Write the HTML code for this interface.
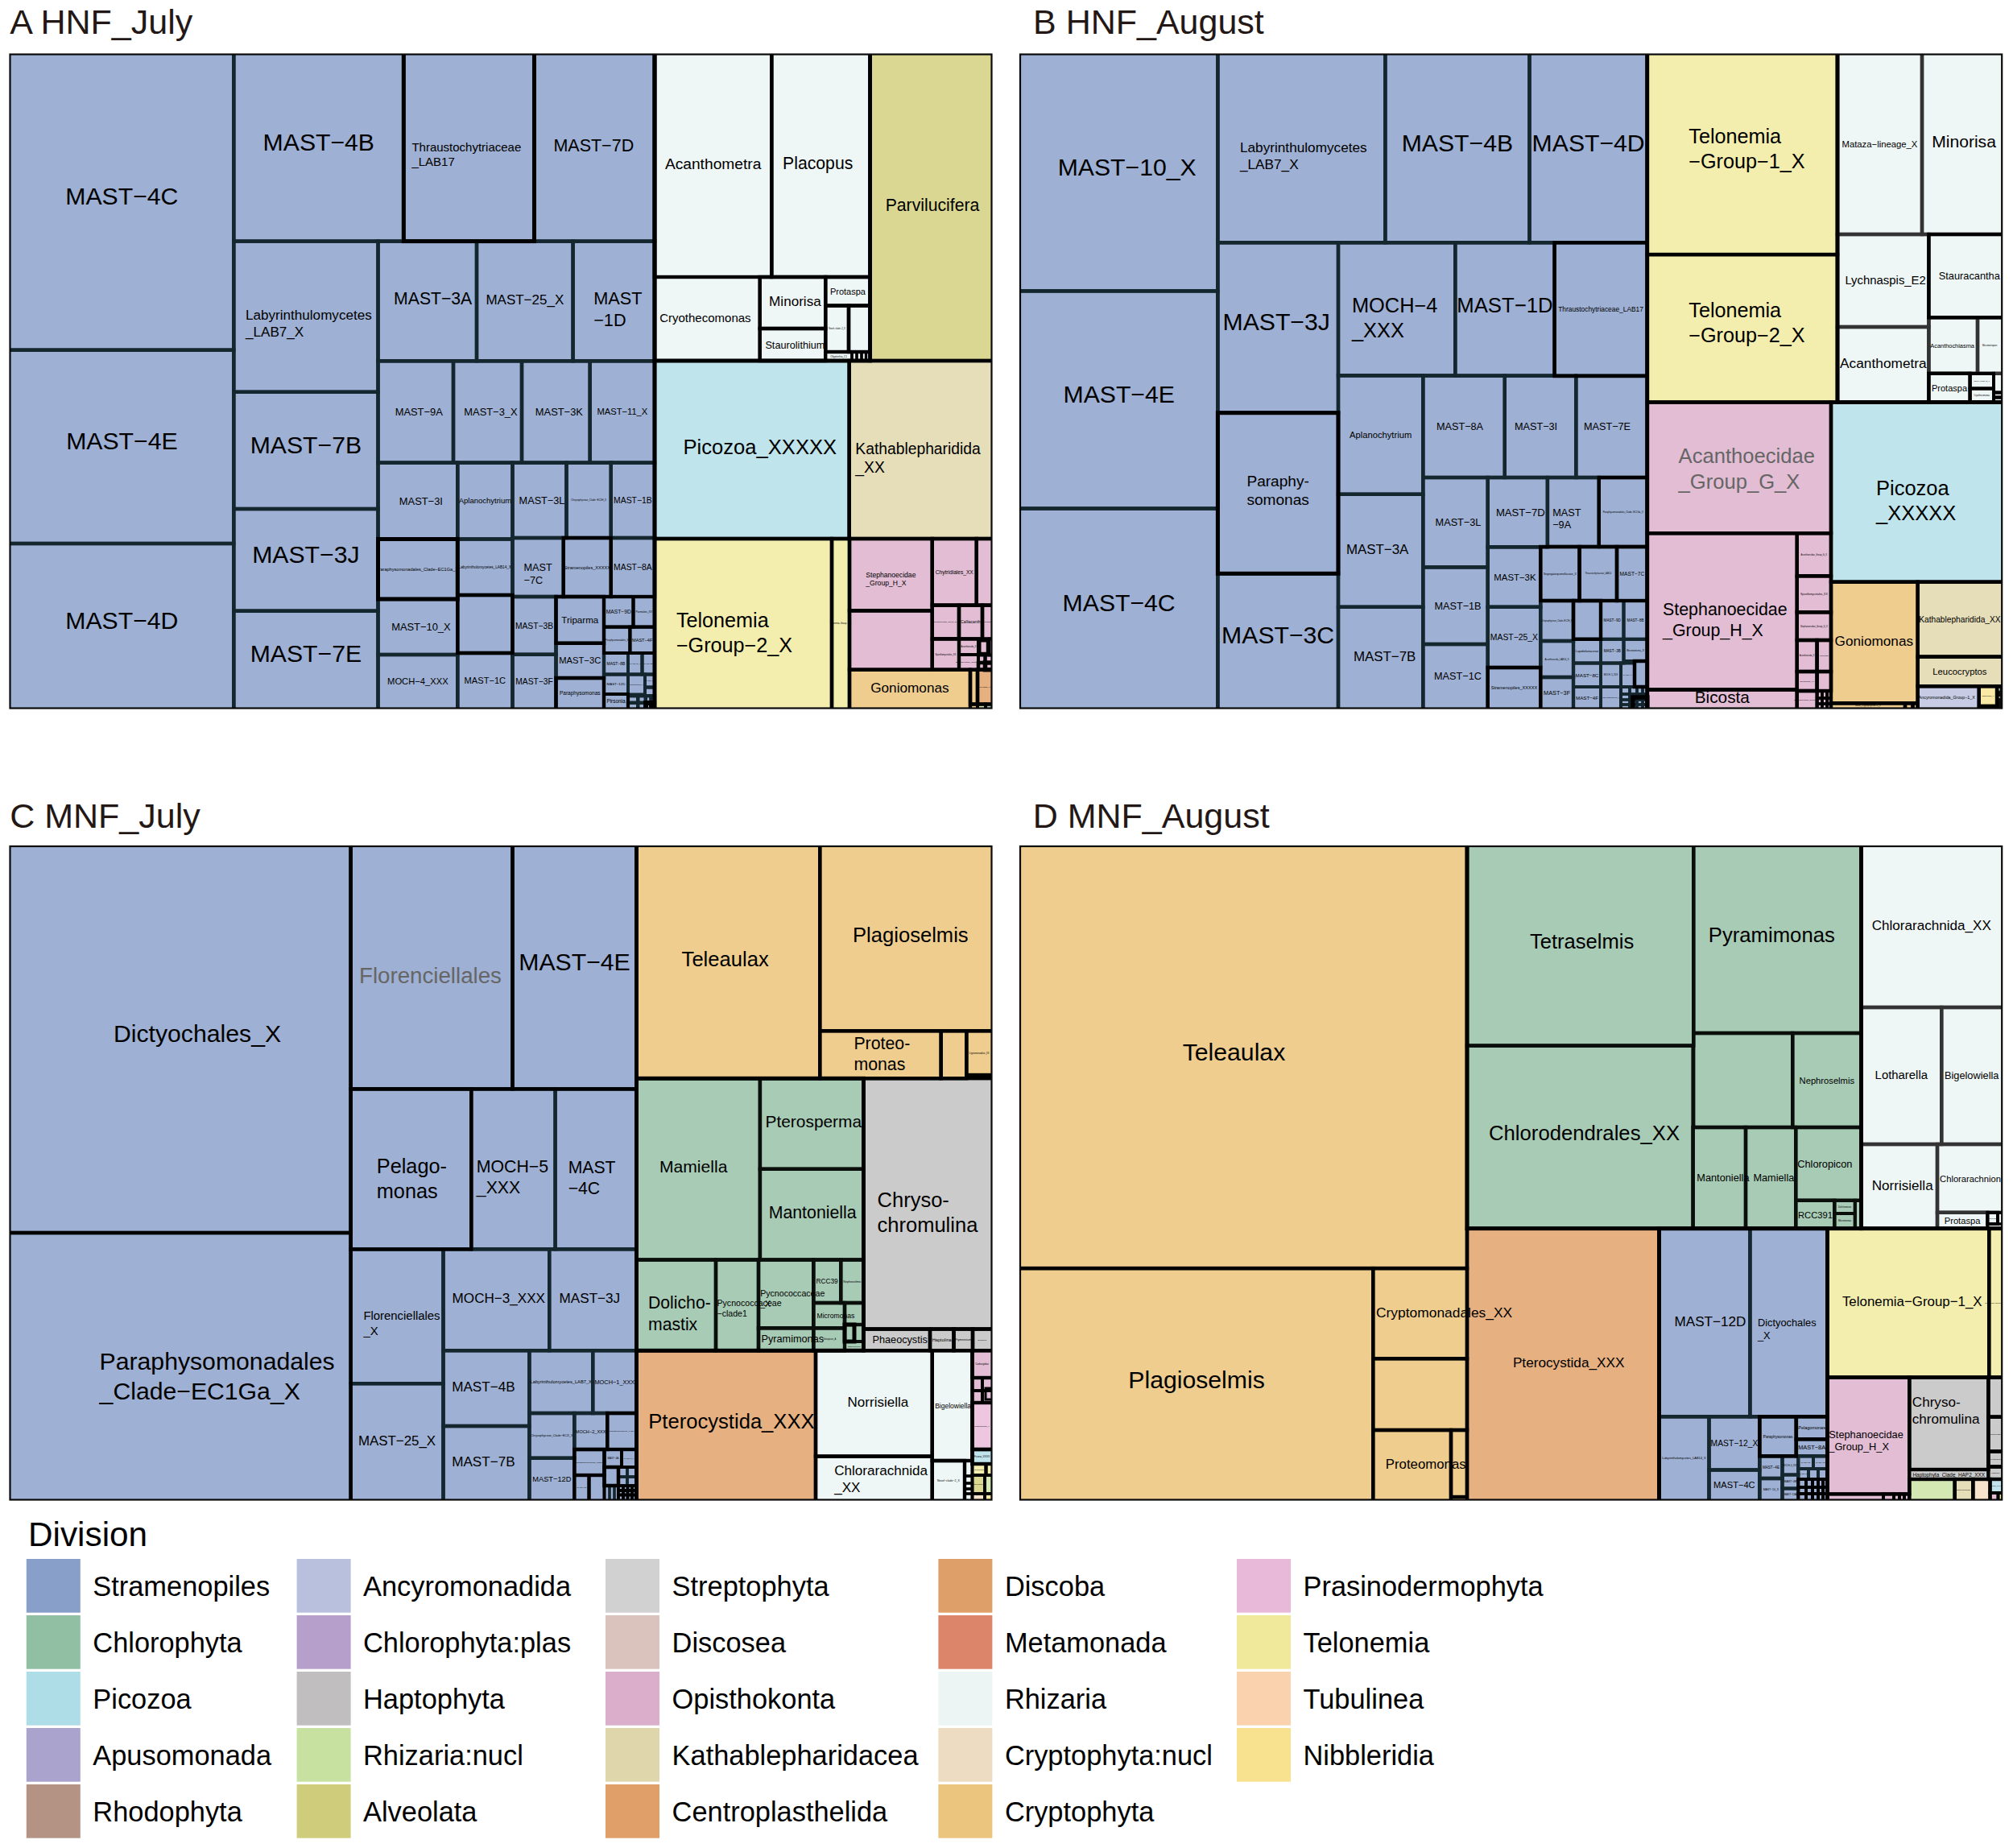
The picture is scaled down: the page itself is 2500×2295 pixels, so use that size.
<!DOCTYPE html>
<html lang="en"><head><meta charset="utf-8"><title>Division treemaps</title>
<style>html,body{margin:0;padding:0;background:#fff}svg{display:block}text{font-family:"Liberation Sans",sans-serif;fill:#000}</style></head><body>
<svg width="2500" height="2295" viewBox="0 0 2500 2295">
<rect width="2500" height="2295" fill="#fff"/>
<text x="12.2" y="42.3" font-size="43" style="fill:#231815">A HNF_July</text>
<text x="1283" y="42.3" font-size="43" style="fill:#231815">B HNF_August</text>
<text x="12.2" y="1028" font-size="43" style="fill:#231815">C MNF_July</text>
<text x="1282.7" y="1028" font-size="43" style="fill:#231815">D MNF_August</text>
<clipPath id="cpA"><rect x="12.5" y="67.5" width="1219.0" height="812.0"/></clipPath>
<g clip-path="url(#cpA)">
<rect x="12.5" y="67.5" width="1219.0" height="812.0" fill="#111"/>
<rect x="8.5" y="63.5" width="281.8" height="371.2" fill="#9eb0d3"/>
<rect x="8.5" y="434.7" width="281.8" height="240.3" fill="#9eb0d3"/>
<rect x="8.5" y="675.0" width="281.8" height="208.5" fill="#9eb0d3"/>
<rect x="290.3" y="63.5" width="211.0" height="236.1" fill="#9eb0d3"/>
<rect x="663.5" y="63.5" width="149.5" height="236.1" fill="#9eb0d3"/>
<rect x="290.3" y="299.6" width="179.2" height="187.2" fill="#9eb0d3"/>
<rect x="290.3" y="486.8" width="179.2" height="145.2" fill="#9eb0d3"/>
<rect x="290.3" y="632.0" width="179.2" height="126.7" fill="#9eb0d3"/>
<rect x="290.3" y="758.7" width="179.2" height="124.8" fill="#9eb0d3"/>
<rect x="469.5" y="299.6" width="122.5" height="148.7" fill="#9eb0d3"/>
<rect x="592.0" y="299.6" width="119.6" height="148.7" fill="#9eb0d3"/>
<rect x="711.6" y="299.6" width="101.4" height="148.7" fill="#9eb0d3"/>
<rect x="469.5" y="448.3" width="93.5" height="126.3" fill="#9eb0d3"/>
<rect x="563.0" y="448.3" width="85.0" height="126.3" fill="#9eb0d3"/>
<rect x="648.0" y="448.3" width="84.7" height="126.3" fill="#9eb0d3"/>
<rect x="732.7" y="448.3" width="80.3" height="126.3" fill="#9eb0d3"/>
<rect x="469.5" y="574.6" width="98.8" height="94.9" fill="#9eb0d3"/>
<rect x="568.3" y="574.6" width="68.2" height="94.9" fill="#9eb0d3"/>
<rect x="636.5" y="574.6" width="67.0" height="93.4" fill="#9eb0d3"/>
<rect x="703.5" y="574.6" width="55.3" height="93.4" fill="#9eb0d3"/>
<rect x="758.8" y="574.6" width="54.2" height="93.4" fill="#9eb0d3"/>
<rect x="568.3" y="669.5" width="68.2" height="69.5" fill="#9eb0d3"/>
<rect x="636.5" y="668.0" width="63.3" height="73.0" fill="#9eb0d3"/>
<rect x="758.8" y="668.0" width="54.2" height="73.0" fill="#9eb0d3"/>
<rect x="469.5" y="744.0" width="98.8" height="69.0" fill="#9eb0d3"/>
<rect x="469.5" y="813.0" width="98.8" height="70.5" fill="#9eb0d3"/>
<rect x="568.3" y="811.0" width="68.2" height="72.5" fill="#9eb0d3"/>
<rect x="636.5" y="741.0" width="54.0" height="71.8" fill="#9eb0d3"/>
<rect x="636.5" y="812.8" width="54.0" height="70.7" fill="#9eb0d3"/>
<rect x="690.5" y="741.0" width="59.5" height="57.8" fill="#9eb0d3"/>
<rect x="690.5" y="798.8" width="59.5" height="43.2" fill="#9eb0d3"/>
<rect x="690.5" y="842.0" width="59.5" height="41.5" fill="#9eb0d3"/>
<rect x="750.0" y="741.0" width="36.5" height="37.6" fill="#9eb0d3"/>
<rect x="786.5" y="741.0" width="26.5" height="37.6" fill="#9eb0d3"/>
<rect x="750.0" y="778.6" width="32.4" height="32.4" fill="#9eb0d3"/>
<rect x="782.4" y="778.6" width="30.6" height="32.4" fill="#9eb0d3"/>
<rect x="750.0" y="811.0" width="30.0" height="26.5" fill="#9eb0d3"/>
<rect x="780.0" y="811.0" width="17.5" height="26.5" fill="#9eb0d3"/>
<rect x="797.5" y="811.0" width="15.5" height="26.5" fill="#9eb0d3"/>
<rect x="750.0" y="837.5" width="30.0" height="24.5" fill="#9eb0d3"/>
<rect x="780.0" y="837.5" width="21.0" height="25.0" fill="#9eb0d3"/>
<rect x="801.0" y="837.5" width="12.0" height="16.0" fill="#9eb0d3"/>
<rect x="801.0" y="853.5" width="12.0" height="10.5" fill="#9eb0d3"/>
<rect x="780.0" y="864.3" width="12.2" height="8.5" fill="#9eb0d3"/>
<rect x="780.0" y="872.8" width="12.2" height="10.7" fill="#9eb0d3"/>
<rect x="792.2" y="864.3" width="9.6" height="8.5" fill="#9eb0d3"/>
<rect x="792.2" y="872.8" width="9.6" height="10.7" fill="#9eb0d3"/>
<rect x="801.8" y="864.3" width="6.7" height="8.5" fill="#9eb0d3"/>
<rect x="801.8" y="872.8" width="6.7" height="10.7" fill="#9eb0d3"/>
<rect x="808.5" y="864.3" width="4.5" height="8.5" fill="#9eb0d3"/>
<rect x="808.5" y="872.8" width="4.5" height="10.7" fill="#9eb0d3"/>
<rect x="802.0" y="873.0" width="7.0" height="10.5" fill="#9eb0d3"/>
<rect x="750.0" y="862.0" width="30.0" height="21.5" fill="#9eb0d3"/>
<rect x="568.3" y="739.0" width="68.2" height="72.0" fill="#9eb0d3"/>
<rect x="699.8" y="668.0" width="59.0" height="73.0" fill="#9eb0d3"/>
<rect x="469.5" y="669.5" width="98.8" height="74.5" fill="#9eb0d3"/>
<rect x="501.3" y="63.5" width="162.2" height="236.1" fill="#9eb0d3"/>
<rect x="813.0" y="63.5" width="145.3" height="280.5" fill="#eff6f6"/>
<rect x="958.3" y="63.5" width="122.3" height="280.5" fill="#eff6f6"/>
<rect x="813.0" y="344.0" width="130.7" height="104.0" fill="#eff6f6"/>
<rect x="943.7" y="344.0" width="81.5" height="64.0" fill="#eff6f6"/>
<rect x="943.7" y="408.0" width="81.5" height="40.0" fill="#eff6f6"/>
<rect x="1025.2" y="344.0" width="55.4" height="35.6" fill="#eff6f6"/>
<rect x="1025.2" y="379.6" width="28.8" height="57.4" fill="#eff6f6"/>
<rect x="1054.0" y="379.6" width="26.6" height="57.4" fill="#eff6f6"/>
<rect x="1025.2" y="437.0" width="32.8" height="11.0" fill="#eff6f6"/>
<rect x="1058.0" y="437.0" width="6.0" height="11.0" fill="#eff6f6"/>
<rect x="1064.0" y="437.0" width="6.0" height="11.0" fill="#eff6f6"/>
<rect x="1070.0" y="437.0" width="5.5" height="11.0" fill="#eff6f6"/>
<rect x="1075.5" y="437.0" width="5.1" height="11.0" fill="#eff6f6"/>
<rect x="1080.6" y="63.5" width="154.9" height="384.5" fill="#d9d791"/>
<rect x="813.0" y="448.0" width="241.7" height="221.0" fill="#bfe4ec"/>
<rect x="1054.7" y="448.0" width="180.8" height="221.0" fill="#e6deb9"/>
<rect x="813.0" y="669.0" width="220.0" height="214.5" fill="#f3eeae"/>
<rect x="1033.0" y="669.0" width="22.0" height="214.5" fill="#f3eeae"/>
<rect x="1055.0" y="669.0" width="102.8" height="89.4" fill="#e2bdd4"/>
<rect x="1055.0" y="758.4" width="102.8" height="73.3" fill="#e2bdd4"/>
<rect x="1157.8" y="669.0" width="55.0" height="82.6" fill="#e2bdd4"/>
<rect x="1212.8" y="669.0" width="22.7" height="82.6" fill="#e2bdd4"/>
<rect x="1157.8" y="751.6" width="33.2" height="41.8" fill="#e2bdd4"/>
<rect x="1191.0" y="751.6" width="29.0" height="41.8" fill="#e2bdd4"/>
<rect x="1220.0" y="751.6" width="15.5" height="41.8" fill="#e2bdd4"/>
<rect x="1157.8" y="793.4" width="33.2" height="38.3" fill="#e2bdd4"/>
<rect x="1191.0" y="793.4" width="24.0" height="19.6" fill="#e2bdd4"/>
<rect x="1191.0" y="813.0" width="24.0" height="18.7" fill="#e2bdd4"/>
<rect x="1228.5" y="793.4" width="7.0" height="20.1" fill="#e2bdd4"/>
<rect x="1215.0" y="813.5" width="8.5" height="9.5" fill="#e2bdd4"/>
<rect x="1223.5" y="813.5" width="12.0" height="9.5" fill="#e2bdd4"/>
<rect x="1215.0" y="823.0" width="8.5" height="8.7" fill="#e2bdd4"/>
<rect x="1223.5" y="823.0" width="12.0" height="8.7" fill="#e2bdd4"/>
<rect x="1216.5" y="795.5" width="10.3" height="16.3" fill="#e2bdd4"/>
<rect x="1055.0" y="831.7" width="150.0" height="51.8" fill="#efcd8f"/>
<rect x="1205.0" y="831.7" width="9.0" height="42.8" fill="#efcd8f"/>
<rect x="1214.0" y="831.7" width="21.5" height="42.8" fill="#e7b081"/>
<rect x="1205.0" y="874.5" width="9.0" height="9.0" fill="#efcd8f"/>
<rect x="1214.0" y="874.5" width="10.0" height="9.0" fill="#d4e8b3"/>
<rect x="1224.0" y="874.5" width="11.5" height="9.0" fill="#a8cbb5"/>
<g fill="none">
<rect x="8.5" y="63.5" width="281.8" height="371.2" stroke="#14272f" stroke-width="4.4"/>
<rect x="8.5" y="434.7" width="281.8" height="240.3" stroke="#14272f" stroke-width="4.4"/>
<rect x="8.5" y="675.0" width="281.8" height="208.5" stroke="#14272f" stroke-width="4.4"/>
<rect x="290.3" y="63.5" width="211.0" height="236.1" stroke="#14272f" stroke-width="4.4"/>
<rect x="663.5" y="63.5" width="149.5" height="236.1" stroke="#14272f" stroke-width="4.4"/>
<rect x="290.3" y="299.6" width="179.2" height="187.2" stroke="#14272f" stroke-width="4.4"/>
<rect x="290.3" y="486.8" width="179.2" height="145.2" stroke="#14272f" stroke-width="4.4"/>
<rect x="290.3" y="632.0" width="179.2" height="126.7" stroke="#14272f" stroke-width="4.4"/>
<rect x="290.3" y="758.7" width="179.2" height="124.8" stroke="#14272f" stroke-width="4.4"/>
<rect x="469.5" y="299.6" width="122.5" height="148.7" stroke="#14272f" stroke-width="4.4"/>
<rect x="592.0" y="299.6" width="119.6" height="148.7" stroke="#14272f" stroke-width="4.4"/>
<rect x="711.6" y="299.6" width="101.4" height="148.7" stroke="#14272f" stroke-width="4.4"/>
<rect x="469.5" y="448.3" width="93.5" height="126.3" stroke="#14272f" stroke-width="4.4"/>
<rect x="563.0" y="448.3" width="85.0" height="126.3" stroke="#14272f" stroke-width="4.4"/>
<rect x="648.0" y="448.3" width="84.7" height="126.3" stroke="#14272f" stroke-width="4.4"/>
<rect x="732.7" y="448.3" width="80.3" height="126.3" stroke="#14272f" stroke-width="4.4"/>
<rect x="469.5" y="574.6" width="98.8" height="94.9" stroke="#14272f" stroke-width="4.4"/>
<rect x="568.3" y="574.6" width="68.2" height="94.9" stroke="#14272f" stroke-width="4.4"/>
<rect x="636.5" y="574.6" width="67.0" height="93.4" stroke="#14272f" stroke-width="4.4"/>
<rect x="703.5" y="574.6" width="55.3" height="93.4" stroke="#14272f" stroke-width="4.4"/>
<rect x="758.8" y="574.6" width="54.2" height="93.4" stroke="#14272f" stroke-width="4.4"/>
<rect x="568.3" y="669.5" width="68.2" height="69.5" stroke="#14272f" stroke-width="4.4"/>
<rect x="636.5" y="668.0" width="63.3" height="73.0" stroke="#14272f" stroke-width="4.4"/>
<rect x="758.8" y="668.0" width="54.2" height="73.0" stroke="#14272f" stroke-width="4.4"/>
<rect x="469.5" y="744.0" width="98.8" height="69.0" stroke="#14272f" stroke-width="4.4"/>
<rect x="469.5" y="813.0" width="98.8" height="70.5" stroke="#14272f" stroke-width="4.4"/>
<rect x="568.3" y="811.0" width="68.2" height="72.5" stroke="#14272f" stroke-width="4.4"/>
<rect x="636.5" y="741.0" width="54.0" height="71.8" stroke="#14272f" stroke-width="4.4"/>
<rect x="636.5" y="812.8" width="54.0" height="70.7" stroke="#14272f" stroke-width="4.4"/>
<rect x="690.5" y="798.8" width="59.5" height="43.2" stroke="#14272f" stroke-width="4.4"/>
<rect x="750.0" y="811.0" width="30.0" height="26.5" stroke="#14272f" stroke-width="4"/>
<rect x="780.0" y="811.0" width="17.5" height="26.5" stroke="#14272f" stroke-width="4"/>
<rect x="797.5" y="811.0" width="15.5" height="26.5" stroke="#14272f" stroke-width="4"/>
<rect x="750.0" y="837.5" width="30.0" height="24.5" stroke="#14272f" stroke-width="4"/>
<rect x="780.0" y="837.5" width="21.0" height="25.0" stroke="#14272f" stroke-width="4"/>
<rect x="801.0" y="837.5" width="12.0" height="16.0" stroke="#14272f" stroke-width="4"/>
<rect x="801.0" y="853.5" width="12.0" height="10.5" stroke="#14272f" stroke-width="4"/>
<rect x="780.0" y="864.3" width="12.2" height="8.5" stroke="#14272f" stroke-width="4.2"/>
<rect x="780.0" y="872.8" width="12.2" height="10.7" stroke="#14272f" stroke-width="4.2"/>
<rect x="792.2" y="864.3" width="9.6" height="8.5" stroke="#14272f" stroke-width="4.2"/>
<rect x="792.2" y="872.8" width="9.6" height="10.7" stroke="#14272f" stroke-width="4.2"/>
<rect x="801.8" y="864.3" width="6.7" height="8.5" stroke="#14272f" stroke-width="4.2"/>
<rect x="801.8" y="872.8" width="6.7" height="10.7" stroke="#14272f" stroke-width="4.2"/>
<rect x="808.5" y="864.3" width="4.5" height="8.5" stroke="#14272f" stroke-width="4.2"/>
<rect x="808.5" y="872.8" width="4.5" height="10.7" stroke="#14272f" stroke-width="4.2"/>
<rect x="813.0" y="344.0" width="130.7" height="104.0" stroke="#333333" stroke-width="4"/>
<rect x="1224.0" y="874.5" width="11.5" height="9.0" stroke="#0a0f0c" stroke-width="4"/>
<rect x="690.5" y="741.0" width="59.5" height="57.8" stroke="#000" stroke-width="4.4"/>
<rect x="690.5" y="842.0" width="59.5" height="41.5" stroke="#000" stroke-width="4.4"/>
<rect x="750.0" y="741.0" width="36.5" height="37.6" stroke="#000" stroke-width="4"/>
<rect x="786.5" y="741.0" width="26.5" height="37.6" stroke="#000" stroke-width="4"/>
<rect x="750.0" y="778.6" width="32.4" height="32.4" stroke="#000" stroke-width="4"/>
<rect x="782.4" y="778.6" width="30.6" height="32.4" stroke="#000" stroke-width="4"/>
<rect x="802.0" y="873.0" width="7.0" height="10.5" stroke="#000" stroke-width="6"/>
<rect x="750.0" y="862.0" width="30.0" height="21.5" stroke="#000" stroke-width="4"/>
<rect x="568.3" y="739.0" width="68.2" height="72.0" stroke="#000" stroke-width="4.4"/>
<rect x="699.8" y="668.0" width="59.0" height="73.0" stroke="#000" stroke-width="4.4"/>
<rect x="469.5" y="669.5" width="98.8" height="74.5" stroke="#000" stroke-width="5"/>
<rect x="501.3" y="63.5" width="162.2" height="236.1" stroke="#000" stroke-width="5"/>
<rect x="813.0" y="63.5" width="145.3" height="280.5" stroke="#000" stroke-width="4.4"/>
<rect x="958.3" y="63.5" width="122.3" height="280.5" stroke="#000" stroke-width="4.4"/>
<rect x="943.7" y="344.0" width="81.5" height="64.0" stroke="#000" stroke-width="4.4"/>
<rect x="943.7" y="408.0" width="81.5" height="40.0" stroke="#000" stroke-width="4.4"/>
<rect x="1025.2" y="344.0" width="55.4" height="35.6" stroke="#000" stroke-width="4.4"/>
<rect x="1025.2" y="379.6" width="28.8" height="57.4" stroke="#000" stroke-width="4.4"/>
<rect x="1054.0" y="379.6" width="26.6" height="57.4" stroke="#000" stroke-width="4.4"/>
<rect x="1025.2" y="437.0" width="32.8" height="11.0" stroke="#000" stroke-width="3.5"/>
<rect x="1058.0" y="437.0" width="6.0" height="11.0" stroke="#000" stroke-width="3.2"/>
<rect x="1064.0" y="437.0" width="6.0" height="11.0" stroke="#000" stroke-width="3.2"/>
<rect x="1070.0" y="437.0" width="5.5" height="11.0" stroke="#000" stroke-width="3.2"/>
<rect x="1075.5" y="437.0" width="5.1" height="11.0" stroke="#000" stroke-width="3.2"/>
<rect x="1080.6" y="63.5" width="154.9" height="384.5" stroke="#000" stroke-width="4.4"/>
<rect x="813.0" y="448.0" width="241.7" height="221.0" stroke="#000" stroke-width="4.4"/>
<rect x="1054.7" y="448.0" width="180.8" height="221.0" stroke="#000" stroke-width="4.4"/>
<rect x="813.0" y="669.0" width="220.0" height="214.5" stroke="#000" stroke-width="4.4"/>
<rect x="1033.0" y="669.0" width="22.0" height="214.5" stroke="#000" stroke-width="4.4"/>
<rect x="1055.0" y="669.0" width="102.8" height="89.4" stroke="#000" stroke-width="4.4"/>
<rect x="1055.0" y="758.4" width="102.8" height="73.3" stroke="#000" stroke-width="4.4"/>
<rect x="1157.8" y="669.0" width="55.0" height="82.6" stroke="#000" stroke-width="4.4"/>
<rect x="1212.8" y="669.0" width="22.7" height="82.6" stroke="#000" stroke-width="4.4"/>
<rect x="1157.8" y="751.6" width="33.2" height="41.8" stroke="#000" stroke-width="4.4"/>
<rect x="1191.0" y="751.6" width="29.0" height="41.8" stroke="#000" stroke-width="4.4"/>
<rect x="1220.0" y="751.6" width="15.5" height="41.8" stroke="#000" stroke-width="4.4"/>
<rect x="1157.8" y="793.4" width="33.2" height="38.3" stroke="#000" stroke-width="4.4"/>
<rect x="1191.0" y="793.4" width="24.0" height="19.6" stroke="#000" stroke-width="4"/>
<rect x="1191.0" y="813.0" width="24.0" height="18.7" stroke="#000" stroke-width="4"/>
<rect x="1228.5" y="793.4" width="7.0" height="20.1" stroke="#000" stroke-width="3.5"/>
<rect x="1215.0" y="813.5" width="8.5" height="9.5" stroke="#000" stroke-width="4"/>
<rect x="1223.5" y="813.5" width="12.0" height="9.5" stroke="#000" stroke-width="4"/>
<rect x="1215.0" y="823.0" width="8.5" height="8.7" stroke="#000" stroke-width="4.5"/>
<rect x="1223.5" y="823.0" width="12.0" height="8.7" stroke="#000" stroke-width="5.5"/>
<rect x="1216.5" y="795.5" width="10.3" height="16.3" stroke="#000" stroke-width="4"/>
<rect x="1055.0" y="831.7" width="150.0" height="51.8" stroke="#000" stroke-width="4.4"/>
<rect x="1205.0" y="831.7" width="9.0" height="42.8" stroke="#000" stroke-width="4.4"/>
<rect x="1214.0" y="831.7" width="21.5" height="42.8" stroke="#000" stroke-width="4.4"/>
<rect x="1205.0" y="874.5" width="9.0" height="9.0" stroke="#000" stroke-width="4"/>
<rect x="1214.0" y="874.5" width="10.0" height="9.0" stroke="#000" stroke-width="4"/>
<rect x="8.5" y="63.5" width="804.5" height="820.0" stroke="#000" stroke-width="4.8"/>
<rect x="813.0" y="63.5" width="267.6" height="384.5" stroke="#000" stroke-width="4.8"/>
</g>
</g>
<rect x="12.5" y="67.5" width="1219.0" height="812.0" fill="none" stroke="#0a0a0a" stroke-width="2.2"/>
<g clip-path="url(#cpA)">
<text x="81.3" y="254.4" font-size="30.20">MAST−4C</text>
<text x="82.2" y="558.2" font-size="30.20">MAST−4E</text>
<text x="81.3" y="780.6" font-size="30.20">MAST−4D</text>
<text x="326.6" y="186.9" font-size="30.20">MAST−4B</text>
<text x="687.4" y="187.5" font-size="21.50">MAST−7D</text>
<text x="305.0" y="397.4" font-size="17.10">Labyrinthulomycetes</text>
<text x="305.0" y="418.4" font-size="17.10">_LAB7_X</text>
<text x="310.7" y="562.7" font-size="30.20">MAST−7B</text>
<text x="313.2" y="698.7" font-size="30.20">MAST−3J</text>
<text x="310.7" y="822.4" font-size="30.20">MAST−7E</text>
<text x="489.1" y="377.9" font-size="21.20">MAST−3A</text>
<text x="603.4" y="378.1" font-size="17.00">MAST−25_X</text>
<text x="737.2" y="377.8" font-size="21.70">MAST</text>
<text x="737.2" y="404.5" font-size="21.70">−1D</text>
<text x="490.7" y="515.9" font-size="12.90">MAST−9A</text>
<text x="576.3" y="515.9" font-size="12.90">MAST−3_X</text>
<text x="664.8" y="515.9" font-size="12.90">MAST−3K</text>
<text x="741.4" y="515.4" font-size="11.20">MAST−11_X</text>
<text x="495.8" y="626.5" font-size="12.90">MAST−3I</text>
<text x="569.7" y="625.4" font-size="9.50">Aplanochytrium</text>
<text x="644.6" y="625.8" font-size="12.70">MAST−3L</text>
<text x="709.3" y="622.4" font-size="3.00">Chrysophyceae_Clade−EC2H_X</text>
<text x="762.1" y="625.0" font-size="10.40">MAST−1B</text>
<text x="569.6" y="705.9" font-size="4.70">Labyrinthulomycetes_LAB14_X</text>
<text x="650.5" y="709.0" font-size="12.70">MAST</text>
<text x="650.5" y="724.6" font-size="12.70">−7C</text>
<text x="762.1" y="708.2" font-size="10.40">MAST−8A</text>
<text x="486.2" y="783.0" font-size="12.90">MAST−10_X</text>
<text x="481.1" y="850.2" font-size="11.20">MOCH−4_XXX</text>
<text x="576.6" y="849.2" font-size="11.10">MAST−1C</text>
<text x="639.9" y="780.6" font-size="10.30">MAST−3B</text>
<text x="640.2" y="849.8" font-size="10.30">MAST−3F</text>
<text x="697.3" y="774.0" font-size="11.60">Triparma</text>
<text x="694.3" y="824.4" font-size="11.20">MAST−3C</text>
<text x="695.0" y="863.1" font-size="6.50">Paraphysomonas</text>
<text x="752.7" y="762.2" font-size="6.70">MAST−9D</text>
<text x="789.4" y="761.0" font-size="3.40">Parmales_XX</text>
<text x="752.0" y="795.7" font-size="2.60">Paraphysomonadales_X</text>
<text x="785.0" y="796.8" font-size="5.60">MAST−4F</text>
<text x="753.5" y="826.0" font-size="5.00">MAST−8B</text>
<text x="782.3" y="825.1" font-size="2.50">MAST−2_X</text>
<text x="799.4" y="825.1" font-size="2.50">MAST−2D</text>
<text x="753.6" y="851.3" font-size="4.40">MAST−12D</text>
<text x="782.2" y="850.9" font-size="2.50">Pedinellales_X</text>
<text x="801.3" y="846.4" font-size="2.50">MAST−7A</text>
<text x="753.4" y="873.0" font-size="6.40">Pirsonia</text>
<text x="700.5" y="706.5" font-size="5.60">Stramenopiles_XXXXX</text>
<text x="468.7" y="708.7" font-size="5.60">Paraphysomonadales_Clade−EC1Ga_X</text>
<text x="511.4" y="187.9" font-size="15.00">Thraustochytriaceae</text>
<text x="511.4" y="206.3" font-size="15.00">_LAB17</text>
<text x="825.9" y="209.8" font-size="19.20">Acanthometra</text>
<text x="972.1" y="209.7" font-size="21.20">Placopus</text>
<text x="819.2" y="400.3" font-size="15.00">Cryothecomonas</text>
<text x="955.1" y="380.2" font-size="17.10">Minorisa</text>
<text x="950.4" y="432.5" font-size="12.70">Staurolithium</text>
<text x="1030.9" y="365.7" font-size="11.00">Protaspa</text>
<text x="1029.3" y="409.2" font-size="2.60">Novel−clade−2_X</text>
<text x="1031.3" y="443.6" font-size="3.00">Oligotrichia_C1</text>
<text x="1099.7" y="261.7" font-size="21.20">Parvilucifera</text>
<text x="848.5" y="564.1" font-size="25.60">Picozoa_XXXXX</text>
<text x="1062.3" y="563.5" font-size="19.30">Kathablepharidida</text>
<text x="1062.3" y="587.3" font-size="19.30">_XX</text>
<text x="839.9" y="779.0" font-size="25.20">Telonemia</text>
<text x="839.9" y="810.0" font-size="25.20">−Group−2_X</text>
<text x="1030.6" y="775.2" font-size="2.60">Telonemia−Group−1_X</text>
<text x="1075.3" y="716.8" font-size="8.60">Stephanoecidae</text>
<text x="1075.3" y="727.3" font-size="8.60">_Group_H_X</text>
<text x="1161.8" y="712.6" font-size="6.60">Chytridiales_XX</text>
<text x="1158.1" y="773.4" font-size="2.50">Stephanoecidae_Group_D_X</text>
<text x="1193.3" y="774.2" font-size="4.90">Calliacantha</text>
<text x="1220.3" y="773.4" font-size="2.50">Monosiga</text>
<text x="1161.5" y="813.5" font-size="2.60">Spizellomycetales_XX</text>
<text x="1193.5" y="804.1" font-size="2.60">Acanthoecida_X</text>
<text x="1186.7" y="823.2" font-size="2.50">Stephanoecidae_Group_E_X</text>
<text x="1081.2" y="859.8" font-size="17.20">Goniomonas</text>
<text x="1212.7" y="854.0" font-size="2.50">Pterocystida_XXX</text>
</g>
<clipPath id="cpB"><rect x="1267" y="67.5" width="1219.2" height="812.0"/></clipPath>
<g clip-path="url(#cpB)">
<rect x="1267" y="67.5" width="1219.2" height="812.0" fill="#111"/>
<rect x="1263.0" y="63.5" width="249.4" height="297.9" fill="#9eb0d3"/>
<rect x="1263.0" y="361.4" width="249.4" height="270.1" fill="#9eb0d3"/>
<rect x="1263.0" y="631.5" width="249.4" height="252.0" fill="#9eb0d3"/>
<rect x="1512.4" y="63.5" width="208.0" height="237.8" fill="#9eb0d3"/>
<rect x="1720.4" y="63.5" width="179.1" height="237.8" fill="#9eb0d3"/>
<rect x="1899.5" y="63.5" width="146.3" height="237.8" fill="#9eb0d3"/>
<rect x="1512.4" y="301.3" width="149.6" height="211.4" fill="#9eb0d3"/>
<rect x="1662.0" y="301.3" width="145.3" height="165.1" fill="#9eb0d3"/>
<rect x="1807.3" y="301.3" width="123.3" height="165.3" fill="#9eb0d3"/>
<rect x="1512.4" y="712.3" width="149.6" height="171.2" fill="#9eb0d3"/>
<rect x="1662.0" y="466.4" width="105.3" height="147.4" fill="#9eb0d3"/>
<rect x="1662.0" y="613.8" width="105.3" height="140.0" fill="#9eb0d3"/>
<rect x="1662.0" y="753.8" width="105.3" height="129.7" fill="#9eb0d3"/>
<rect x="1767.3" y="466.6" width="101.5" height="126.4" fill="#9eb0d3"/>
<rect x="1868.8" y="466.6" width="88.5" height="126.4" fill="#9eb0d3"/>
<rect x="1957.3" y="466.6" width="88.5" height="126.4" fill="#9eb0d3"/>
<rect x="1767.3" y="593.0" width="80.4" height="111.4" fill="#9eb0d3"/>
<rect x="1767.3" y="704.4" width="80.4" height="95.6" fill="#9eb0d3"/>
<rect x="1767.3" y="800.0" width="80.4" height="83.5" fill="#9eb0d3"/>
<rect x="1847.7" y="593.0" width="74.2" height="86.3" fill="#9eb0d3"/>
<rect x="1921.9" y="593.0" width="63.9" height="86.0" fill="#9eb0d3"/>
<rect x="1847.7" y="679.3" width="65.5" height="74.5" fill="#9eb0d3"/>
<rect x="2008.0" y="679.0" width="37.8" height="67.0" fill="#9eb0d3"/>
<rect x="1847.7" y="753.8" width="65.5" height="75.2" fill="#9eb0d3"/>
<rect x="1913.2" y="746.0" width="40.8" height="50.0" fill="#9eb0d3"/>
<rect x="1988.0" y="746.0" width="28.5" height="47.8" fill="#9eb0d3"/>
<rect x="2016.5" y="746.0" width="29.3" height="47.8" fill="#9eb0d3"/>
<rect x="1913.2" y="796.0" width="40.8" height="45.0" fill="#9eb0d3"/>
<rect x="1913.2" y="841.0" width="40.8" height="42.5" fill="#9eb0d3"/>
<rect x="1954.0" y="793.8" width="34.0" height="29.7" fill="#9eb0d3"/>
<rect x="1954.0" y="823.5" width="34.0" height="29.5" fill="#9eb0d3"/>
<rect x="1954.0" y="853.0" width="34.0" height="30.5" fill="#9eb0d3"/>
<rect x="1988.0" y="793.8" width="28.5" height="29.7" fill="#9eb0d3"/>
<rect x="2016.5" y="793.8" width="29.3" height="27.2" fill="#9eb0d3"/>
<rect x="1988.0" y="823.5" width="25.0" height="29.5" fill="#9eb0d3"/>
<rect x="2013.0" y="823.5" width="17.0" height="29.5" fill="#9eb0d3"/>
<rect x="1988.0" y="853.0" width="25.0" height="30.5" fill="#9eb0d3"/>
<rect x="2013.0" y="853.0" width="11.0" height="9.0" fill="#9eb0d3"/>
<rect x="2013.0" y="862.0" width="11.0" height="7.0" fill="#9eb0d3"/>
<rect x="2013.0" y="869.0" width="11.0" height="6.0" fill="#9eb0d3"/>
<rect x="2013.0" y="875.0" width="11.0" height="8.5" fill="#9eb0d3"/>
<rect x="2024.0" y="853.0" width="9.0" height="9.0" fill="#9eb0d3"/>
<rect x="2024.0" y="862.0" width="9.0" height="7.0" fill="#9eb0d3"/>
<rect x="2024.0" y="869.0" width="9.0" height="6.0" fill="#9eb0d3"/>
<rect x="2024.0" y="875.0" width="9.0" height="8.5" fill="#9eb0d3"/>
<rect x="2033.0" y="853.0" width="7.0" height="9.0" fill="#9eb0d3"/>
<rect x="2033.0" y="862.0" width="7.0" height="7.0" fill="#9eb0d3"/>
<rect x="2033.0" y="869.0" width="7.0" height="6.0" fill="#9eb0d3"/>
<rect x="2033.0" y="875.0" width="7.0" height="8.5" fill="#9eb0d3"/>
<rect x="2040.0" y="853.0" width="5.8" height="9.0" fill="#9eb0d3"/>
<rect x="2040.0" y="862.0" width="5.8" height="7.0" fill="#9eb0d3"/>
<rect x="2040.0" y="869.0" width="5.8" height="6.0" fill="#9eb0d3"/>
<rect x="2040.0" y="875.0" width="5.8" height="8.5" fill="#9eb0d3"/>
<rect x="2030.0" y="821.0" width="15.8" height="32.0" fill="#9eb0d3"/>
<rect x="2028.0" y="866.0" width="17.8" height="17.5" fill="#9eb0d3"/>
<rect x="1954.0" y="746.0" width="34.0" height="47.8" fill="#9eb0d3"/>
<rect x="1961.6" y="679.0" width="46.4" height="67.0" fill="#9eb0d3"/>
<rect x="1913.2" y="679.0" width="48.4" height="67.0" fill="#9eb0d3"/>
<rect x="1985.8" y="593.0" width="60.0" height="86.0" fill="#9eb0d3"/>
<rect x="1847.7" y="829.0" width="65.5" height="54.5" fill="#9eb0d3"/>
<rect x="1930.6" y="301.3" width="115.2" height="165.7" fill="#9eb0d3"/>
<rect x="1512.4" y="512.7" width="149.6" height="199.6" fill="#9eb0d3"/>
<rect x="2045.8" y="63.5" width="236.2" height="252.6" fill="#f3eeae"/>
<rect x="2045.8" y="316.1" width="236.2" height="183.4" fill="#f3eeae"/>
<rect x="2282.0" y="63.5" width="105.0" height="227.5" fill="#eff6f6"/>
<rect x="2387.0" y="63.5" width="103.2" height="227.5" fill="#eff6f6"/>
<rect x="2282.0" y="291.0" width="113.4" height="115.0" fill="#eff6f6"/>
<rect x="2282.0" y="406.0" width="113.4" height="93.5" fill="#eff6f6"/>
<rect x="2395.4" y="291.0" width="94.8" height="103.3" fill="#eff6f6"/>
<rect x="2395.4" y="394.3" width="60.6" height="69.5" fill="#eff6f6"/>
<rect x="2456.0" y="394.3" width="34.2" height="69.5" fill="#eff6f6"/>
<rect x="2395.4" y="463.8" width="51.2" height="35.7" fill="#eff6f6"/>
<rect x="2446.6" y="463.8" width="29.4" height="18.7" fill="#eff6f6"/>
<rect x="2446.6" y="482.5" width="29.4" height="17.0" fill="#eff6f6"/>
<rect x="2476.0" y="463.8" width="14.2" height="23.7" fill="#eff6f6"/>
<rect x="2476.0" y="487.5" width="14.2" height="6.0" fill="#eff6f6"/>
<rect x="2476.0" y="493.5" width="14.2" height="6.0" fill="#eff6f6"/>
<rect x="2045.8" y="499.5" width="228.2" height="162.7" fill="#e2bdd4"/>
<rect x="2045.8" y="662.2" width="186.0" height="194.3" fill="#e2bdd4"/>
<rect x="2045.8" y="856.5" width="186.0" height="27.0" fill="#e2bdd4"/>
<rect x="2231.8" y="662.2" width="42.2" height="53.1" fill="#e2bdd4"/>
<rect x="2231.8" y="715.3" width="42.2" height="45.0" fill="#e2bdd4"/>
<rect x="2231.8" y="760.3" width="42.2" height="34.7" fill="#e2bdd4"/>
<rect x="2231.8" y="795.0" width="24.8" height="39.0" fill="#e2bdd4"/>
<rect x="2256.6" y="795.0" width="17.4" height="39.0" fill="#e2bdd4"/>
<rect x="2231.8" y="834.0" width="24.8" height="24.0" fill="#e2bdd4"/>
<rect x="2256.6" y="834.0" width="17.4" height="24.0" fill="#e2bdd4"/>
<rect x="2231.8" y="858.0" width="24.8" height="25.5" fill="#e2bdd4"/>
<rect x="2256.6" y="858.0" width="6.4" height="9.0" fill="#e2bdd4"/>
<rect x="2256.6" y="867.0" width="6.4" height="7.0" fill="#e2bdd4"/>
<rect x="2256.6" y="874.0" width="6.4" height="9.5" fill="#e2bdd4"/>
<rect x="2263.0" y="858.0" width="6.0" height="9.0" fill="#e2bdd4"/>
<rect x="2263.0" y="867.0" width="6.0" height="7.0" fill="#e2bdd4"/>
<rect x="2263.0" y="874.0" width="6.0" height="9.5" fill="#e2bdd4"/>
<rect x="2269.0" y="858.0" width="5.0" height="9.0" fill="#e2bdd4"/>
<rect x="2269.0" y="867.0" width="5.0" height="7.0" fill="#e2bdd4"/>
<rect x="2269.0" y="874.0" width="5.0" height="9.5" fill="#e2bdd4"/>
<rect x="2274.0" y="499.5" width="216.2" height="223.2" fill="#bfe4ec"/>
<rect x="2274.0" y="722.7" width="107.7" height="150.6" fill="#efcd8f"/>
<rect x="2274.0" y="873.3" width="92.0" height="10.2" fill="#efcd8f"/>
<rect x="2366.0" y="873.3" width="9.5" height="10.2" fill="#efcd8f"/>
<rect x="2375.5" y="873.3" width="6.2" height="10.2" fill="#efcd8f"/>
<rect x="2381.7" y="722.7" width="108.5" height="92.9" fill="#e6deb9"/>
<rect x="2381.7" y="815.6" width="108.5" height="36.6" fill="#e6deb9"/>
<rect x="2381.7" y="852.2" width="76.1" height="31.3" fill="#c7cce4"/>
<rect x="2457.8" y="852.2" width="22.2" height="24.6" fill="#f9e8a6"/>
<rect x="2457.8" y="876.8" width="22.2" height="6.7" fill="#0d0d0d"/>
<rect x="2480.0" y="852.2" width="10.2" height="31.3" fill="#0d0d0d"/>
<rect x="2482.0" y="854.5" width="2.0" height="3.5" fill="#a8cbb5"/>
<rect x="2482.3" y="865.0" width="1.7" height="2.0" fill="#eff6f6"/>
<g fill="none">
<rect x="1263.0" y="63.5" width="249.4" height="297.9" stroke="#14272f" stroke-width="4.4"/>
<rect x="1263.0" y="361.4" width="249.4" height="270.1" stroke="#14272f" stroke-width="4.4"/>
<rect x="1263.0" y="631.5" width="249.4" height="252.0" stroke="#14272f" stroke-width="4.4"/>
<rect x="1512.4" y="63.5" width="208.0" height="237.8" stroke="#14272f" stroke-width="4.4"/>
<rect x="1720.4" y="63.5" width="179.1" height="237.8" stroke="#14272f" stroke-width="4.4"/>
<rect x="1899.5" y="63.5" width="146.3" height="237.8" stroke="#14272f" stroke-width="4.4"/>
<rect x="1512.4" y="301.3" width="149.6" height="211.4" stroke="#14272f" stroke-width="4.4"/>
<rect x="1662.0" y="301.3" width="145.3" height="165.1" stroke="#14272f" stroke-width="4.4"/>
<rect x="1807.3" y="301.3" width="123.3" height="165.3" stroke="#14272f" stroke-width="4.4"/>
<rect x="1512.4" y="712.3" width="149.6" height="171.2" stroke="#14272f" stroke-width="4.4"/>
<rect x="1662.0" y="466.4" width="105.3" height="147.4" stroke="#14272f" stroke-width="4.4"/>
<rect x="1662.0" y="613.8" width="105.3" height="140.0" stroke="#14272f" stroke-width="4.4"/>
<rect x="1662.0" y="753.8" width="105.3" height="129.7" stroke="#14272f" stroke-width="4.4"/>
<rect x="1767.3" y="466.6" width="101.5" height="126.4" stroke="#14272f" stroke-width="4.4"/>
<rect x="1868.8" y="466.6" width="88.5" height="126.4" stroke="#14272f" stroke-width="4.4"/>
<rect x="1957.3" y="466.6" width="88.5" height="126.4" stroke="#14272f" stroke-width="4.4"/>
<rect x="1767.3" y="593.0" width="80.4" height="111.4" stroke="#14272f" stroke-width="4.4"/>
<rect x="1767.3" y="704.4" width="80.4" height="95.6" stroke="#14272f" stroke-width="4.4"/>
<rect x="1767.3" y="800.0" width="80.4" height="83.5" stroke="#14272f" stroke-width="4.4"/>
<rect x="1847.7" y="593.0" width="74.2" height="86.3" stroke="#14272f" stroke-width="4.4"/>
<rect x="1921.9" y="593.0" width="63.9" height="86.0" stroke="#14272f" stroke-width="4.4"/>
<rect x="1847.7" y="679.3" width="65.5" height="74.5" stroke="#14272f" stroke-width="4.4"/>
<rect x="1847.7" y="753.8" width="65.5" height="75.2" stroke="#14272f" stroke-width="4.4"/>
<rect x="1913.2" y="746.0" width="40.8" height="50.0" stroke="#14272f" stroke-width="4.4"/>
<rect x="1988.0" y="746.0" width="28.5" height="47.8" stroke="#14272f" stroke-width="4"/>
<rect x="2016.5" y="746.0" width="29.3" height="47.8" stroke="#14272f" stroke-width="4"/>
<rect x="1913.2" y="796.0" width="40.8" height="45.0" stroke="#14272f" stroke-width="4.4"/>
<rect x="1913.2" y="841.0" width="40.8" height="42.5" stroke="#14272f" stroke-width="4.4"/>
<rect x="1954.0" y="793.8" width="34.0" height="29.7" stroke="#14272f" stroke-width="4"/>
<rect x="1954.0" y="823.5" width="34.0" height="29.5" stroke="#14272f" stroke-width="4"/>
<rect x="1954.0" y="853.0" width="34.0" height="30.5" stroke="#14272f" stroke-width="4"/>
<rect x="1988.0" y="793.8" width="28.5" height="29.7" stroke="#14272f" stroke-width="4"/>
<rect x="2016.5" y="793.8" width="29.3" height="27.2" stroke="#14272f" stroke-width="4"/>
<rect x="1988.0" y="823.5" width="25.0" height="29.5" stroke="#14272f" stroke-width="4"/>
<rect x="2013.0" y="823.5" width="17.0" height="29.5" stroke="#14272f" stroke-width="4"/>
<rect x="1988.0" y="853.0" width="25.0" height="30.5" stroke="#14272f" stroke-width="4"/>
<rect x="2013.0" y="853.0" width="11.0" height="9.0" stroke="#14272f" stroke-width="3.4"/>
<rect x="2013.0" y="862.0" width="11.0" height="7.0" stroke="#14272f" stroke-width="3.4"/>
<rect x="2013.0" y="869.0" width="11.0" height="6.0" stroke="#14272f" stroke-width="3.4"/>
<rect x="2013.0" y="875.0" width="11.0" height="8.5" stroke="#14272f" stroke-width="3.4"/>
<rect x="2024.0" y="853.0" width="9.0" height="9.0" stroke="#14272f" stroke-width="3.4"/>
<rect x="2024.0" y="862.0" width="9.0" height="7.0" stroke="#14272f" stroke-width="3.4"/>
<rect x="2024.0" y="869.0" width="9.0" height="6.0" stroke="#14272f" stroke-width="3.4"/>
<rect x="2024.0" y="875.0" width="9.0" height="8.5" stroke="#14272f" stroke-width="3.4"/>
<rect x="2033.0" y="853.0" width="7.0" height="9.0" stroke="#14272f" stroke-width="3.4"/>
<rect x="2033.0" y="862.0" width="7.0" height="7.0" stroke="#14272f" stroke-width="3.4"/>
<rect x="2033.0" y="869.0" width="7.0" height="6.0" stroke="#14272f" stroke-width="3.4"/>
<rect x="2033.0" y="875.0" width="7.0" height="8.5" stroke="#14272f" stroke-width="3.4"/>
<rect x="2040.0" y="853.0" width="5.8" height="9.0" stroke="#14272f" stroke-width="3.4"/>
<rect x="2040.0" y="862.0" width="5.8" height="7.0" stroke="#14272f" stroke-width="3.4"/>
<rect x="2040.0" y="869.0" width="5.8" height="6.0" stroke="#14272f" stroke-width="3.4"/>
<rect x="2040.0" y="875.0" width="5.8" height="8.5" stroke="#14272f" stroke-width="3.4"/>
<rect x="2282.0" y="63.5" width="105.0" height="227.5" stroke="#333333" stroke-width="4.4"/>
<rect x="2387.0" y="63.5" width="103.2" height="227.5" stroke="#333333" stroke-width="4.4"/>
<rect x="2282.0" y="291.0" width="113.4" height="115.0" stroke="#333333" stroke-width="4.4"/>
<rect x="2282.0" y="406.0" width="113.4" height="93.5" stroke="#333333" stroke-width="4.4"/>
<rect x="2395.4" y="394.3" width="60.6" height="69.5" stroke="#333333" stroke-width="4.4"/>
<rect x="2456.0" y="394.3" width="34.2" height="69.5" stroke="#333333" stroke-width="4.4"/>
<rect x="2476.0" y="463.8" width="14.2" height="23.7" stroke="#333333" stroke-width="4"/>
<rect x="2482.0" y="854.5" width="2.0" height="3.5" stroke="#0a0f0c" stroke-width="0.5"/>
<rect x="2482.3" y="865.0" width="1.7" height="2.0" stroke="#333333" stroke-width="0.5"/>
<rect x="2008.0" y="679.0" width="37.8" height="67.0" stroke="#000" stroke-width="4.4"/>
<rect x="2030.0" y="821.0" width="15.8" height="32.0" stroke="#000" stroke-width="4.5"/>
<rect x="2028.0" y="866.0" width="17.8" height="17.5" stroke="#000" stroke-width="5.5"/>
<rect x="1954.0" y="746.0" width="34.0" height="47.8" stroke="#000" stroke-width="4.4"/>
<rect x="1961.6" y="679.0" width="46.4" height="67.0" stroke="#000" stroke-width="4.4"/>
<rect x="1913.2" y="679.0" width="48.4" height="67.0" stroke="#000" stroke-width="4.4"/>
<rect x="1985.8" y="593.0" width="60.0" height="86.0" stroke="#000" stroke-width="4.4"/>
<rect x="1847.7" y="829.0" width="65.5" height="54.5" stroke="#000" stroke-width="4.4"/>
<rect x="1930.6" y="301.3" width="115.2" height="165.7" stroke="#000" stroke-width="4.4"/>
<rect x="1512.4" y="512.7" width="149.6" height="199.6" stroke="#000" stroke-width="5"/>
<rect x="2045.8" y="63.5" width="236.2" height="252.6" stroke="#000" stroke-width="4.4"/>
<rect x="2045.8" y="316.1" width="236.2" height="183.4" stroke="#000" stroke-width="4.4"/>
<rect x="2395.4" y="291.0" width="94.8" height="103.3" stroke="#000" stroke-width="4.4"/>
<rect x="2395.4" y="463.8" width="51.2" height="35.7" stroke="#000" stroke-width="4.4"/>
<rect x="2446.6" y="463.8" width="29.4" height="18.7" stroke="#000" stroke-width="4"/>
<rect x="2446.6" y="482.5" width="29.4" height="17.0" stroke="#000" stroke-width="4"/>
<rect x="2476.0" y="487.5" width="14.2" height="6.0" stroke="#000" stroke-width="4"/>
<rect x="2476.0" y="493.5" width="14.2" height="6.0" stroke="#000" stroke-width="4"/>
<rect x="2045.8" y="499.5" width="228.2" height="162.7" stroke="#000" stroke-width="4.4"/>
<rect x="2045.8" y="662.2" width="186.0" height="194.3" stroke="#000" stroke-width="4.4"/>
<rect x="2045.8" y="856.5" width="186.0" height="27.0" stroke="#000" stroke-width="4.4"/>
<rect x="2231.8" y="662.2" width="42.2" height="53.1" stroke="#000" stroke-width="4.4"/>
<rect x="2231.8" y="715.3" width="42.2" height="45.0" stroke="#000" stroke-width="4.4"/>
<rect x="2231.8" y="760.3" width="42.2" height="34.7" stroke="#000" stroke-width="4.4"/>
<rect x="2231.8" y="795.0" width="24.8" height="39.0" stroke="#000" stroke-width="4.4"/>
<rect x="2256.6" y="795.0" width="17.4" height="39.0" stroke="#000" stroke-width="4.4"/>
<rect x="2231.8" y="834.0" width="24.8" height="24.0" stroke="#000" stroke-width="4.4"/>
<rect x="2256.6" y="834.0" width="17.4" height="24.0" stroke="#000" stroke-width="4.4"/>
<rect x="2231.8" y="858.0" width="24.8" height="25.5" stroke="#000" stroke-width="4.4"/>
<rect x="2256.6" y="858.0" width="6.4" height="9.0" stroke="#000" stroke-width="3.4"/>
<rect x="2256.6" y="867.0" width="6.4" height="7.0" stroke="#000" stroke-width="3.4"/>
<rect x="2256.6" y="874.0" width="6.4" height="9.5" stroke="#000" stroke-width="3.4"/>
<rect x="2263.0" y="858.0" width="6.0" height="9.0" stroke="#000" stroke-width="3.4"/>
<rect x="2263.0" y="867.0" width="6.0" height="7.0" stroke="#000" stroke-width="3.4"/>
<rect x="2263.0" y="874.0" width="6.0" height="9.5" stroke="#000" stroke-width="3.4"/>
<rect x="2269.0" y="858.0" width="5.0" height="9.0" stroke="#000" stroke-width="3.4"/>
<rect x="2269.0" y="867.0" width="5.0" height="7.0" stroke="#000" stroke-width="3.4"/>
<rect x="2269.0" y="874.0" width="5.0" height="9.5" stroke="#000" stroke-width="3.4"/>
<rect x="2274.0" y="499.5" width="216.2" height="223.2" stroke="#000" stroke-width="4.4"/>
<rect x="2274.0" y="722.7" width="107.7" height="150.6" stroke="#000" stroke-width="4.4"/>
<rect x="2274.0" y="873.3" width="92.0" height="10.2" stroke="#000" stroke-width="4.4"/>
<rect x="2366.0" y="873.3" width="9.5" height="10.2" stroke="#000" stroke-width="4.4"/>
<rect x="2375.5" y="873.3" width="6.2" height="10.2" stroke="#000" stroke-width="4.4"/>
<rect x="2381.7" y="722.7" width="108.5" height="92.9" stroke="#000" stroke-width="4.4"/>
<rect x="2381.7" y="815.6" width="108.5" height="36.6" stroke="#000" stroke-width="4.4"/>
<rect x="2381.7" y="852.2" width="76.1" height="31.3" stroke="#000" stroke-width="4.4"/>
<rect x="2457.8" y="852.2" width="22.2" height="24.6" stroke="#000" stroke-width="4.4"/>
<rect x="2457.8" y="876.8" width="22.2" height="6.7" stroke="#000" stroke-width="2"/>
<rect x="2480.0" y="852.2" width="10.2" height="31.3" stroke="#000" stroke-width="2"/>
<rect x="1263.0" y="63.5" width="782.8" height="820.0" stroke="#000" stroke-width="4.8"/>
<rect x="2282.0" y="63.5" width="208.2" height="436.0" stroke="#000" stroke-width="4.8"/>
</g>
</g>
<rect x="1267" y="67.5" width="1219.2" height="812.0" fill="none" stroke="#0a0a0a" stroke-width="2.2"/>
<g clip-path="url(#cpB)">
<text x="1313.7" y="217.8" font-size="30.20">MAST−10_X</text>
<text x="1320.5" y="499.8" font-size="30.20">MAST−4E</text>
<text x="1319.6" y="758.8" font-size="30.20">MAST−4C</text>
<text x="1540.0" y="188.6" font-size="17.20">Labyrinthulomycetes</text>
<text x="1540.0" y="209.7" font-size="17.20">_LAB7_X</text>
<text x="1740.7" y="187.7" font-size="30.20">MAST−4B</text>
<text x="1902.6" y="187.7" font-size="30.20">MAST−4D</text>
<text x="1518.5" y="410.3" font-size="30.20">MAST−3J</text>
<text x="1678.9" y="387.5" font-size="25.40">MOCH−4</text>
<text x="1678.9" y="418.7" font-size="25.40">_XXX</text>
<text x="1809.3" y="387.6" font-size="25.70">MAST−1D</text>
<text x="1517.1" y="799.2" font-size="30.20">MAST−3C</text>
<text x="1676.1" y="544.1" font-size="11.20">Aplanochytrium</text>
<text x="1671.9" y="688.0" font-size="16.90">MAST−3A</text>
<text x="1680.9" y="820.9" font-size="16.90">MAST−7B</text>
<text x="1783.9" y="534.3" font-size="12.70">MAST−8A</text>
<text x="1880.9" y="534.3" font-size="12.70">MAST−3I</text>
<text x="1966.9" y="534.3" font-size="12.70">MAST−7E</text>
<text x="1782.6" y="653.2" font-size="12.70">MAST−3L</text>
<text x="1781.4" y="756.7" font-size="12.70">MAST−1B</text>
<text x="1781.0" y="844.2" font-size="12.70">MAST−1C</text>
<text x="1857.9" y="640.6" font-size="13.10">MAST−7D</text>
<text x="1928.2" y="640.5" font-size="12.70">MAST</text>
<text x="1928.2" y="656.1" font-size="12.70">−9A</text>
<text x="1855.3" y="720.6" font-size="11.40">MAST−3K</text>
<text x="2011.6" y="714.8" font-size="6.60">MAST−7C</text>
<text x="1850.8" y="795.1" font-size="10.40">MAST−25_X</text>
<text x="1914.6" y="771.9" font-size="2.60">Chrysophyceae_Clade−EC2H_X</text>
<text x="1991.6" y="771.5" font-size="4.60">MAST−9D</text>
<text x="2020.6" y="771.5" font-size="4.60">MAST−8B</text>
<text x="1918.4" y="819.5" font-size="2.80">Acanthoecida_LAB14_X</text>
<text x="1917.1" y="862.8" font-size="7.30">MAST−3F</text>
<text x="1956.8" y="810.1" font-size="4.00">Lapidofanaceae</text>
<text x="1956.6" y="840.5" font-size="6.20">MAST−8C</text>
<text x="1957.0" y="868.5" font-size="6.20">MAST−4F</text>
<text x="1991.7" y="810.3" font-size="4.60">MAST−3B</text>
<text x="2020.3" y="808.6" font-size="3.40">Bicosoecea_X</text>
<text x="1991.7" y="839.2" font-size="2.60">MOCH−5_XXX</text>
<text x="2015.8" y="839.1" font-size="2.50">MAST−4A</text>
<text x="1989.5" y="867.1" font-size="2.50">Labyrinthulaceae_X</text>
<text x="1968.4" y="713.4" font-size="2.60">Thraustochytriaceae_LAB14</text>
<text x="1917.0" y="713.7" font-size="3.40">Segregatospumellaceae_X</text>
<text x="1990.7" y="637.0" font-size="2.80">Paraphysomonadales_Clade−EC1Ga_X</text>
<text x="1851.7" y="856.2" font-size="5.60">Stramenopiles_XXXXX</text>
<text x="1935.2" y="387.1" font-size="8.40">Thraustochytriaceae_LAB17</text>
<text x="1548.4" y="603.7" font-size="19.10">Paraphy-</text>
<text x="1548.4" y="627.2" font-size="19.10">somonas</text>
<text x="2097.3" y="178.0" font-size="25.20">Telonemia</text>
<text x="2097.3" y="209.0" font-size="25.20">−Group−1_X</text>
<text x="2097.3" y="394.0" font-size="25.20">Telonemia</text>
<text x="2097.3" y="425.0" font-size="25.20">−Group−2_X</text>
<text x="2287.5" y="183.3" font-size="11.30">Mataza−lineage_X</text>
<text x="2399.2" y="183.2" font-size="21.10">Minorisa</text>
<text x="2291.4" y="352.8" font-size="14.90">Lychnaspis_E2</text>
<text x="2285.1" y="456.9" font-size="17.30">Acanthometra</text>
<text x="2407.7" y="347.1" font-size="12.80">Stauracantha</text>
<text x="2397.3" y="431.7" font-size="7.40">Acanthochiasma</text>
<text x="2461.9" y="430.0" font-size="2.80">Micrometopion</text>
<text x="2399.0" y="485.6" font-size="11.00">Protaspa</text>
<text x="2451.4" y="474.0" font-size="2.50">Novel−clade−2_X</text>
<text x="2451.5" y="491.9" font-size="2.60">Cryothecomonas</text>
<text x="2084.6" y="575.0" font-size="25.60" style="fill:#666">Acanthoecidae</text>
<text x="2084.6" y="606.5" font-size="25.60" style="fill:#666">_Group_G_X</text>
<text x="2065.0" y="763.5" font-size="21.40">Stephanoecidae</text>
<text x="2065.0" y="789.8" font-size="21.40">_Group_H_X</text>
<text x="2104.7" y="872.5" font-size="20.80">Bicosta</text>
<text x="2236.6" y="689.7" font-size="2.60">Acanthoecidae_Group_G_X</text>
<text x="2236.1" y="739.0" font-size="3.40">Spizellomycetales_XX</text>
<text x="2235.9" y="778.6" font-size="2.60">Stephanoecidae_Group_D_X</text>
<text x="2234.7" y="815.4" font-size="2.60">Acanthoecida_X</text>
<text x="2259.9" y="815.4" font-size="2.50">Monosiga</text>
<text x="2235.3" y="846.9" font-size="2.50">Chytridiales_XX</text>
<text x="2227.9" y="869.6" font-size="2.50">Stephanoecidae_Group_E_X</text>
<text x="2330.0" y="614.7" font-size="25.50">Picozoa</text>
<text x="2330.0" y="646.1" font-size="25.50">_XXXXX</text>
<text x="2278.6" y="801.6" font-size="17.20">Goniomonas</text>
<text x="2304.2" y="877.3" font-size="2.60">Basal_Cryptophyceae−2_X</text>
<text x="2383.2" y="772.8" font-size="10.20">Kathablepharidida_XX</text>
<text x="2400.3" y="837.9" font-size="11.30">Leucocryptos</text>
<text x="2382.8" y="867.7" font-size="5.30">Ancyromonadida_Group−1_X</text>
<text x="2461.5" y="865.4" font-size="2.50">Nibbleridia_X</text>
</g>
<clipPath id="cpC"><rect x="12.5" y="1051" width="1219.0" height="811.5"/></clipPath>
<g clip-path="url(#cpC)">
<rect x="12.5" y="1051" width="1219.0" height="811.5" fill="#111"/>
<rect x="435.6" y="1551.4" width="114.9" height="166.8" fill="#9eb0d3"/>
<rect x="435.6" y="1718.2" width="114.9" height="148.3" fill="#9eb0d3"/>
<rect x="550.5" y="1551.3" width="131.7" height="125.9" fill="#9eb0d3"/>
<rect x="682.2" y="1551.3" width="108.3" height="125.9" fill="#9eb0d3"/>
<rect x="550.5" y="1677.2" width="106.9" height="93.8" fill="#9eb0d3"/>
<rect x="550.5" y="1771.0" width="106.9" height="95.5" fill="#9eb0d3"/>
<rect x="657.4" y="1677.2" width="78.8" height="77.8" fill="#9eb0d3"/>
<rect x="736.2" y="1677.2" width="54.3" height="77.8" fill="#9eb0d3"/>
<rect x="657.4" y="1755.0" width="55.9" height="55.8" fill="#9eb0d3"/>
<rect x="657.4" y="1810.8" width="55.9" height="55.7" fill="#9eb0d3"/>
<rect x="713.3" y="1755.0" width="40.9" height="45.0" fill="#9eb0d3"/>
<rect x="585.3" y="1352.4" width="104.3" height="198.9" fill="#9eb0d3"/>
<rect x="689.6" y="1352.4" width="100.9" height="198.9" fill="#9eb0d3"/>
<rect x="754.2" y="1755.0" width="36.3" height="45.0" fill="#9eb0d3"/>
<rect x="713.3" y="1800.0" width="37.2" height="32.0" fill="#9eb0d3"/>
<rect x="750.5" y="1800.0" width="21.5" height="22.0" fill="#9eb0d3"/>
<rect x="772.0" y="1800.0" width="18.5" height="22.0" fill="#9eb0d3"/>
<rect x="713.3" y="1832.0" width="18.2" height="34.5" fill="#9eb0d3"/>
<rect x="731.5" y="1832.0" width="19.0" height="34.5" fill="#9eb0d3"/>
<rect x="750.5" y="1822.0" width="17.5" height="23.0" fill="#9eb0d3"/>
<rect x="768.0" y="1822.0" width="11.0" height="12.0" fill="#9eb0d3"/>
<rect x="779.0" y="1822.0" width="11.5" height="12.0" fill="#9eb0d3"/>
<rect x="768.0" y="1834.0" width="11.0" height="11.0" fill="#9eb0d3"/>
<rect x="779.0" y="1834.0" width="11.5" height="11.0" fill="#9eb0d3"/>
<rect x="750.5" y="1845.0" width="6.5" height="21.5" fill="#9eb0d3"/>
<rect x="757.0" y="1845.0" width="6.0" height="21.5" fill="#9eb0d3"/>
<rect x="763.0" y="1845.0" width="5.0" height="21.5" fill="#9eb0d3"/>
<rect x="768.0" y="1845.0" width="6.0" height="6.0" fill="#9eb0d3"/>
<rect x="768.0" y="1851.0" width="6.0" height="5.5" fill="#9eb0d3"/>
<rect x="768.0" y="1856.5" width="6.0" height="10.0" fill="#9eb0d3"/>
<rect x="774.0" y="1845.0" width="5.5" height="6.0" fill="#9eb0d3"/>
<rect x="774.0" y="1851.0" width="5.5" height="5.5" fill="#9eb0d3"/>
<rect x="774.0" y="1856.5" width="5.5" height="10.0" fill="#9eb0d3"/>
<rect x="779.5" y="1845.0" width="5.5" height="6.0" fill="#9eb0d3"/>
<rect x="779.5" y="1851.0" width="5.5" height="5.5" fill="#9eb0d3"/>
<rect x="779.5" y="1856.5" width="5.5" height="10.0" fill="#9eb0d3"/>
<rect x="785.0" y="1845.0" width="5.5" height="6.0" fill="#9eb0d3"/>
<rect x="785.0" y="1851.0" width="5.5" height="5.5" fill="#9eb0d3"/>
<rect x="785.0" y="1856.5" width="5.5" height="10.0" fill="#9eb0d3"/>
<rect x="8.5" y="1047.0" width="427.1" height="484.0" fill="#9eb0d3"/>
<rect x="8.5" y="1531.0" width="427.1" height="335.5" fill="#9eb0d3"/>
<rect x="435.6" y="1047.0" width="200.9" height="305.4" fill="#9eb0d3"/>
<rect x="636.5" y="1047.0" width="154.0" height="305.4" fill="#9eb0d3"/>
<rect x="435.6" y="1352.4" width="149.7" height="199.0" fill="#9eb0d3"/>
<rect x="790.5" y="1047.0" width="227.7" height="292.2" fill="#efcd8f"/>
<rect x="1018.2" y="1047.0" width="217.3" height="233.2" fill="#efcd8f"/>
<rect x="1018.2" y="1280.2" width="150.5" height="59.0" fill="#efcd8f"/>
<rect x="1168.7" y="1280.2" width="31.6" height="59.0" fill="#efcd8f"/>
<rect x="1200.3" y="1280.2" width="35.2" height="54.8" fill="#efcd8f"/>
<rect x="1200.3" y="1335.0" width="35.2" height="4.2" fill="#e7b081"/>
<rect x="790.5" y="1339.2" width="153.4" height="225.3" fill="#a8cbb5"/>
<rect x="943.9" y="1339.2" width="128.5" height="112.6" fill="#a8cbb5"/>
<rect x="943.9" y="1451.8" width="128.5" height="112.7" fill="#a8cbb5"/>
<rect x="790.5" y="1564.5" width="98.5" height="112.7" fill="#a8cbb5"/>
<rect x="889.0" y="1564.5" width="53.0" height="112.7" fill="#a8cbb5"/>
<rect x="942.0" y="1564.5" width="68.3" height="84.8" fill="#a8cbb5"/>
<rect x="942.0" y="1649.3" width="68.3" height="27.9" fill="#a8cbb5"/>
<rect x="1010.3" y="1564.5" width="33.9" height="53.5" fill="#a8cbb5"/>
<rect x="1044.2" y="1564.5" width="28.2" height="53.5" fill="#a8cbb5"/>
<rect x="1010.3" y="1618.0" width="38.7" height="31.3" fill="#a8cbb5"/>
<rect x="1049.0" y="1618.0" width="23.4" height="27.0" fill="#a8cbb5"/>
<rect x="1010.3" y="1649.3" width="38.7" height="27.9" fill="#a8cbb5"/>
<rect x="1061.0" y="1645.0" width="11.4" height="21.0" fill="#a8cbb5"/>
<rect x="1049.0" y="1666.0" width="23.4" height="11.2" fill="#a8cbb5"/>
<rect x="1049.0" y="1645.0" width="12.0" height="21.0" fill="#a8cbb5"/>
<rect x="1072.4" y="1339.2" width="163.1" height="311.3" fill="#cccbcb"/>
<rect x="1072.4" y="1650.5" width="82.6" height="26.7" fill="#cccbcb"/>
<rect x="1155.0" y="1650.5" width="29.5" height="26.7" fill="#cccbcb"/>
<rect x="1184.5" y="1650.5" width="23.5" height="26.7" fill="#cccbcb"/>
<rect x="1208.0" y="1650.5" width="27.5" height="26.7" fill="#cccbcb"/>
<rect x="790.5" y="1677.2" width="222.5" height="189.3" fill="#e7b081"/>
<rect x="1013.0" y="1677.2" width="144.8" height="131.4" fill="#eff6f6"/>
<rect x="1013.0" y="1808.6" width="144.8" height="57.9" fill="#eff6f6"/>
<rect x="1157.8" y="1677.2" width="49.7" height="136.8" fill="#eff6f6"/>
<rect x="1157.8" y="1814.0" width="40.2" height="52.5" fill="#eff6f6"/>
<rect x="1198.0" y="1814.0" width="9.5" height="19.0" fill="#eff6f6"/>
<rect x="1198.0" y="1833.0" width="9.5" height="9.0" fill="#eff6f6"/>
<rect x="1198.0" y="1842.0" width="9.5" height="7.0" fill="#eff6f6"/>
<rect x="1198.0" y="1849.0" width="9.5" height="6.0" fill="#eff6f6"/>
<rect x="1198.0" y="1855.0" width="9.5" height="11.5" fill="#eff6f6"/>
<rect x="1207.5" y="1677.2" width="28.0" height="33.8" fill="#e2bdd4"/>
<rect x="1207.5" y="1711.0" width="12.5" height="16.0" fill="#e2bdd4"/>
<rect x="1207.5" y="1727.0" width="12.5" height="15.0" fill="#e2bdd4"/>
<rect x="1220.0" y="1711.0" width="15.5" height="16.0" fill="#e2bdd4"/>
<rect x="1220.0" y="1727.0" width="15.5" height="15.0" fill="#e2bdd4"/>
<rect x="1224.0" y="1724.0" width="11.5" height="14.0" fill="#e2bdd4"/>
<rect x="1207.5" y="1742.0" width="28.0" height="58.0" fill="#edc6df"/>
<rect x="1207.5" y="1800.0" width="28.0" height="18.0" fill="#bfe4ec"/>
<rect x="1207.5" y="1818.0" width="17.0" height="14.0" fill="#f3eeae"/>
<rect x="1224.5" y="1818.0" width="11.0" height="14.0" fill="#f3eeae"/>
<rect x="1207.5" y="1832.0" width="15.5" height="23.0" fill="#d9d791"/>
<rect x="1223.0" y="1832.0" width="12.5" height="23.0" fill="#d4e8b3"/>
<rect x="1207.5" y="1855.0" width="15.5" height="11.5" fill="#f7e3cc"/>
<rect x="1223.0" y="1855.0" width="12.5" height="11.5" fill="#f9e8a6"/>
<g fill="none">
<rect x="435.6" y="1551.4" width="114.9" height="166.8" stroke="#14272f" stroke-width="4.4"/>
<rect x="435.6" y="1718.2" width="114.9" height="148.3" stroke="#14272f" stroke-width="4.4"/>
<rect x="550.5" y="1551.3" width="131.7" height="125.9" stroke="#14272f" stroke-width="4.4"/>
<rect x="682.2" y="1551.3" width="108.3" height="125.9" stroke="#14272f" stroke-width="4.4"/>
<rect x="550.5" y="1677.2" width="106.9" height="93.8" stroke="#14272f" stroke-width="4.4"/>
<rect x="550.5" y="1771.0" width="106.9" height="95.5" stroke="#14272f" stroke-width="4.4"/>
<rect x="657.4" y="1677.2" width="78.8" height="77.8" stroke="#14272f" stroke-width="4.4"/>
<rect x="736.2" y="1677.2" width="54.3" height="77.8" stroke="#14272f" stroke-width="4.4"/>
<rect x="657.4" y="1755.0" width="55.9" height="55.8" stroke="#14272f" stroke-width="4.4"/>
<rect x="657.4" y="1810.8" width="55.9" height="55.7" stroke="#14272f" stroke-width="4.4"/>
<rect x="713.3" y="1755.0" width="40.9" height="45.0" stroke="#14272f" stroke-width="4.4"/>
<rect x="585.3" y="1352.4" width="104.3" height="198.9" stroke="#14272f" stroke-width="4.4"/>
<rect x="689.6" y="1352.4" width="100.9" height="198.9" stroke="#14272f" stroke-width="4.4"/>
<rect x="768.0" y="1822.0" width="11.0" height="12.0" stroke="#14272f" stroke-width="3.5"/>
<rect x="779.0" y="1822.0" width="11.5" height="12.0" stroke="#14272f" stroke-width="3.5"/>
<rect x="768.0" y="1834.0" width="11.0" height="11.0" stroke="#14272f" stroke-width="3.5"/>
<rect x="779.0" y="1834.0" width="11.5" height="11.0" stroke="#14272f" stroke-width="3.5"/>
<rect x="750.5" y="1845.0" width="6.5" height="21.5" stroke="#14272f" stroke-width="3.2"/>
<rect x="757.0" y="1845.0" width="6.0" height="21.5" stroke="#14272f" stroke-width="3.2"/>
<rect x="763.0" y="1845.0" width="5.0" height="21.5" stroke="#14272f" stroke-width="3.2"/>
<rect x="790.5" y="1339.2" width="153.4" height="225.3" stroke="#0a0f0c" stroke-width="4.4"/>
<rect x="943.9" y="1339.2" width="128.5" height="112.6" stroke="#0a0f0c" stroke-width="4.4"/>
<rect x="943.9" y="1451.8" width="128.5" height="112.7" stroke="#0a0f0c" stroke-width="4.4"/>
<rect x="790.5" y="1564.5" width="98.5" height="112.7" stroke="#0a0f0c" stroke-width="4.4"/>
<rect x="889.0" y="1564.5" width="53.0" height="112.7" stroke="#0a0f0c" stroke-width="4.4"/>
<rect x="942.0" y="1564.5" width="68.3" height="84.8" stroke="#0a0f0c" stroke-width="4.4"/>
<rect x="942.0" y="1649.3" width="68.3" height="27.9" stroke="#0a0f0c" stroke-width="4.4"/>
<rect x="1010.3" y="1564.5" width="33.9" height="53.5" stroke="#0a0f0c" stroke-width="4.4"/>
<rect x="1044.2" y="1564.5" width="28.2" height="53.5" stroke="#0a0f0c" stroke-width="4.4"/>
<rect x="1010.3" y="1618.0" width="38.7" height="31.3" stroke="#0a0f0c" stroke-width="4.4"/>
<rect x="1049.0" y="1618.0" width="23.4" height="27.0" stroke="#0a0f0c" stroke-width="4.4"/>
<rect x="1010.3" y="1649.3" width="38.7" height="27.9" stroke="#0a0f0c" stroke-width="4.4"/>
<rect x="1061.0" y="1645.0" width="11.4" height="21.0" stroke="#0a0f0c" stroke-width="4"/>
<rect x="1049.0" y="1666.0" width="23.4" height="11.2" stroke="#0a0f0c" stroke-width="3.5"/>
<rect x="754.2" y="1755.0" width="36.3" height="45.0" stroke="#000" stroke-width="4.4"/>
<rect x="713.3" y="1800.0" width="37.2" height="32.0" stroke="#000" stroke-width="4.4"/>
<rect x="750.5" y="1800.0" width="21.5" height="22.0" stroke="#000" stroke-width="4"/>
<rect x="772.0" y="1800.0" width="18.5" height="22.0" stroke="#000" stroke-width="4"/>
<rect x="713.3" y="1832.0" width="18.2" height="34.5" stroke="#000" stroke-width="4"/>
<rect x="731.5" y="1832.0" width="19.0" height="34.5" stroke="#000" stroke-width="4"/>
<rect x="750.5" y="1822.0" width="17.5" height="23.0" stroke="#000" stroke-width="4.5"/>
<rect x="768.0" y="1845.0" width="6.0" height="6.0" stroke="#000" stroke-width="3.6"/>
<rect x="768.0" y="1851.0" width="6.0" height="5.5" stroke="#000" stroke-width="3.6"/>
<rect x="768.0" y="1856.5" width="6.0" height="10.0" stroke="#000" stroke-width="3.6"/>
<rect x="774.0" y="1845.0" width="5.5" height="6.0" stroke="#000" stroke-width="3.6"/>
<rect x="774.0" y="1851.0" width="5.5" height="5.5" stroke="#000" stroke-width="3.6"/>
<rect x="774.0" y="1856.5" width="5.5" height="10.0" stroke="#000" stroke-width="3.6"/>
<rect x="779.5" y="1845.0" width="5.5" height="6.0" stroke="#000" stroke-width="3.6"/>
<rect x="779.5" y="1851.0" width="5.5" height="5.5" stroke="#000" stroke-width="3.6"/>
<rect x="779.5" y="1856.5" width="5.5" height="10.0" stroke="#000" stroke-width="3.6"/>
<rect x="785.0" y="1845.0" width="5.5" height="6.0" stroke="#000" stroke-width="3.6"/>
<rect x="785.0" y="1851.0" width="5.5" height="5.5" stroke="#000" stroke-width="3.6"/>
<rect x="785.0" y="1856.5" width="5.5" height="10.0" stroke="#000" stroke-width="3.6"/>
<rect x="8.5" y="1047.0" width="427.1" height="484.0" stroke="#000" stroke-width="4.4"/>
<rect x="8.5" y="1531.0" width="427.1" height="335.5" stroke="#000" stroke-width="4.4"/>
<rect x="435.6" y="1047.0" width="200.9" height="305.4" stroke="#000" stroke-width="4.4"/>
<rect x="636.5" y="1047.0" width="154.0" height="305.4" stroke="#000" stroke-width="4.4"/>
<rect x="435.6" y="1352.4" width="149.7" height="199.0" stroke="#000" stroke-width="4.4"/>
<rect x="790.5" y="1047.0" width="227.7" height="292.2" stroke="#000" stroke-width="4.4"/>
<rect x="1018.2" y="1047.0" width="217.3" height="233.2" stroke="#000" stroke-width="4.4"/>
<rect x="1018.2" y="1280.2" width="150.5" height="59.0" stroke="#000" stroke-width="4.4"/>
<rect x="1168.7" y="1280.2" width="31.6" height="59.0" stroke="#000" stroke-width="4.4"/>
<rect x="1200.3" y="1280.2" width="35.2" height="54.8" stroke="#000" stroke-width="4.4"/>
<rect x="1200.3" y="1335.0" width="35.2" height="4.2" stroke="#000" stroke-width="2.5"/>
<rect x="1049.0" y="1645.0" width="12.0" height="21.0" stroke="#000" stroke-width="5"/>
<rect x="1072.4" y="1339.2" width="163.1" height="311.3" stroke="#000" stroke-width="4.4"/>
<rect x="1072.4" y="1650.5" width="82.6" height="26.7" stroke="#000" stroke-width="4.4"/>
<rect x="1155.0" y="1650.5" width="29.5" height="26.7" stroke="#000" stroke-width="4.4"/>
<rect x="1184.5" y="1650.5" width="23.5" height="26.7" stroke="#000" stroke-width="4.4"/>
<rect x="1208.0" y="1650.5" width="27.5" height="26.7" stroke="#000" stroke-width="4.4"/>
<rect x="790.5" y="1677.2" width="222.5" height="189.3" stroke="#000" stroke-width="4.4"/>
<rect x="1013.0" y="1677.2" width="144.8" height="131.4" stroke="#000" stroke-width="4.4"/>
<rect x="1013.0" y="1808.6" width="144.8" height="57.9" stroke="#000" stroke-width="4.4"/>
<rect x="1157.8" y="1677.2" width="49.7" height="136.8" stroke="#000" stroke-width="4.4"/>
<rect x="1157.8" y="1814.0" width="40.2" height="52.5" stroke="#000" stroke-width="4.4"/>
<rect x="1198.0" y="1814.0" width="9.5" height="19.0" stroke="#000" stroke-width="3.2"/>
<rect x="1198.0" y="1833.0" width="9.5" height="9.0" stroke="#000" stroke-width="3.2"/>
<rect x="1198.0" y="1842.0" width="9.5" height="7.0" stroke="#000" stroke-width="3.2"/>
<rect x="1198.0" y="1849.0" width="9.5" height="6.0" stroke="#000" stroke-width="3.2"/>
<rect x="1198.0" y="1855.0" width="9.5" height="11.5" stroke="#000" stroke-width="3.2"/>
<rect x="1207.5" y="1677.2" width="28.0" height="33.8" stroke="#000" stroke-width="4.4"/>
<rect x="1207.5" y="1711.0" width="12.5" height="16.0" stroke="#000" stroke-width="3.6"/>
<rect x="1207.5" y="1727.0" width="12.5" height="15.0" stroke="#000" stroke-width="3.6"/>
<rect x="1220.0" y="1711.0" width="15.5" height="16.0" stroke="#000" stroke-width="3.6"/>
<rect x="1220.0" y="1727.0" width="15.5" height="15.0" stroke="#000" stroke-width="3.6"/>
<rect x="1224.0" y="1724.0" width="11.5" height="14.0" stroke="#000" stroke-width="3"/>
<rect x="1207.5" y="1742.0" width="28.0" height="58.0" stroke="#000" stroke-width="4.4"/>
<rect x="1207.5" y="1800.0" width="28.0" height="18.0" stroke="#000" stroke-width="4.4"/>
<rect x="1207.5" y="1818.0" width="17.0" height="14.0" stroke="#000" stroke-width="4"/>
<rect x="1224.5" y="1818.0" width="11.0" height="14.0" stroke="#000" stroke-width="4"/>
<rect x="1207.5" y="1832.0" width="15.5" height="23.0" stroke="#000" stroke-width="4"/>
<rect x="1223.0" y="1832.0" width="12.5" height="23.0" stroke="#000" stroke-width="4"/>
<rect x="1207.5" y="1855.0" width="15.5" height="11.5" stroke="#000" stroke-width="4"/>
<rect x="1223.0" y="1855.0" width="12.5" height="11.5" stroke="#000" stroke-width="4"/>
<rect x="8.5" y="1047.0" width="782.0" height="819.5" stroke="#000" stroke-width="4.8"/>
<rect x="790.5" y="1339.2" width="281.9" height="338.0" stroke="#000" stroke-width="4.8"/>
</g>
</g>
<rect x="12.5" y="1051" width="1219.0" height="811.5" fill="none" stroke="#0a0a0a" stroke-width="2.2"/>
<g clip-path="url(#cpC)">
<text x="451.4" y="1639.1" font-size="14.90">Florenciellales</text>
<text x="451.4" y="1657.5" font-size="14.90">_X</text>
<text x="444.9" y="1794.6" font-size="16.90">MAST−25_X</text>
<text x="561.6" y="1618.4" font-size="17.10">MOCH−3_XXX</text>
<text x="694.6" y="1618.4" font-size="17.10">MAST−3J</text>
<text x="561.2" y="1728.3" font-size="17.10">MAST−4B</text>
<text x="561.2" y="1820.9" font-size="17.10">MAST−7B</text>
<text x="658.6" y="1718.1" font-size="5.70">Labyrinthulomycetes_LAB7_X</text>
<text x="738.4" y="1718.7" font-size="7.40">MOCH−1_XXX</text>
<text x="659.2" y="1784.2" font-size="3.70">Chrysophyceae_Clade−EC2I_X</text>
<text x="661.2" y="1840.0" font-size="9.30">MAST−12D</text>
<text x="714.8" y="1779.5" font-size="5.60">MOCH−2_XXX</text>
<text x="591.8" y="1455.8" font-size="21.30">MOCH−5</text>
<text x="591.8" y="1482.0" font-size="21.30">_XXX</text>
<text x="705.7" y="1456.8" font-size="21.20">MAST</text>
<text x="705.7" y="1482.9" font-size="21.20">−4C</text>
<text x="756.6" y="1778.4" font-size="2.50">Thraustochytriaceae_LAB14</text>
<text x="712.9" y="1816.9" font-size="2.50">Segregatospumellaceae_Clade_X</text>
<text x="754.4" y="1812.1" font-size="3.00">MAST−4A</text>
<text x="774.8" y="1811.9" font-size="2.50">MAST−7_X</text>
<text x="716.6" y="1848.1" font-size="2.50">MAST−1C</text>
<text x="141.0" y="1294.3" font-size="30.20">Dictyochales_X</text>
<text x="123.6" y="1701.2" font-size="30.20">Paraphysomonadales</text>
<text x="123.6" y="1738.3" font-size="30.20">_Clade−EC1Ga_X</text>
<text x="446.0" y="1220.7" font-size="27.70" style="fill:#666">Florenciellales</text>
<text x="644.3" y="1205.0" font-size="30.20">MAST−4E</text>
<text x="467.8" y="1456.8" font-size="25.30">Pelago-</text>
<text x="467.8" y="1487.9" font-size="25.30">monas</text>
<text x="846.6" y="1200.0" font-size="25.60">Teleaulax</text>
<text x="1059.0" y="1170.0" font-size="25.60">Plagioselmis</text>
<text x="1060.4" y="1303.0" font-size="21.30">Proteo-</text>
<text x="1060.4" y="1329.2" font-size="21.30">monas</text>
<text x="1203.3" y="1308.5" font-size="2.60">Cryptomonadales_XX</text>
<text x="819.0" y="1456.0" font-size="21.10">Mamiella</text>
<text x="950.5" y="1399.5" font-size="20.90">Pterosperma</text>
<text x="954.7" y="1513.0" font-size="21.30">Mantoniella</text>
<text x="805.0" y="1625.4" font-size="21.20">Dolicho-</text>
<text x="805.0" y="1651.5" font-size="21.20">mastix</text>
<text x="890.5" y="1622.3" font-size="10.60">Pycnococcaceae</text>
<text x="890.5" y="1635.3" font-size="10.60">−clade1</text>
<text x="944.2" y="1610.0" font-size="10.60">Pycnococcaceae</text>
<text x="944.2" y="1623.0" font-size="10.60">_X</text>
<text x="945.5" y="1666.5" font-size="12.70">Pyramimonas</text>
<text x="1013.5" y="1593.5" font-size="8.30">RCC39</text>
<text x="1047.3" y="1592.5" font-size="3.60">Nephroselmis</text>
<text x="1014.5" y="1637.0" font-size="8.60">Micromonas</text>
<text x="1021.1" y="1664.2" font-size="2.60">Chloropicon_A</text>
<text x="1053.1" y="1672.5" font-size="2.50">Ostreococcus</text>
<text x="1089.6" y="1498.7" font-size="25.50">Chryso-</text>
<text x="1089.6" y="1530.1" font-size="25.50">chromulina</text>
<text x="1083.5" y="1668.3" font-size="12.70">Phaeocystis</text>
<text x="1157.7" y="1665.9" font-size="5.70">Haptolina</text>
<text x="1186.2" y="1665.1" font-size="3.60">Prymnesium</text>
<text x="1214.4" y="1664.7" font-size="2.50">Dicrateria</text>
<text x="805.3" y="1774.0" font-size="25.60">Pterocystida_XXX</text>
<text x="1052.6" y="1747.2" font-size="17.00">Norrisiella</text>
<text x="1036.2" y="1831.7" font-size="17.10">Chlorarachnida</text>
<text x="1036.2" y="1852.7" font-size="17.10">_XX</text>
<text x="1161.2" y="1749.0" font-size="8.50">Bigelowiella</text>
<text x="1164.1" y="1839.5" font-size="3.50">Novel−clade−2_X</text>
<text x="1211.2" y="1695.2" font-size="3.00">Codosigidae</text>
<text x="1210.2" y="1771.9" font-size="2.50">Prasinoderma_X</text>
<text x="1209.8" y="1809.9" font-size="2.60">Picozoa_XXXXX</text>
<text x="1210.3" y="1825.9" font-size="2.50">Telonemia</text>
<text x="1208.4" y="1844.4" font-size="2.50">Parvilucifera</text>
</g>
<clipPath id="cpD"><rect x="1267" y="1051" width="1219.2" height="811.5"/></clipPath>
<g clip-path="url(#cpD)">
<rect x="1267" y="1051" width="1219.2" height="811.5" fill="#111"/>
<rect x="1263.0" y="1047.0" width="559.0" height="528.1" fill="#efcd8f"/>
<rect x="1263.0" y="1575.1" width="442.2" height="291.4" fill="#efcd8f"/>
<rect x="1705.2" y="1575.1" width="116.8" height="112.1" fill="#efcd8f"/>
<rect x="1705.2" y="1687.2" width="116.8" height="88.8" fill="#efcd8f"/>
<rect x="1705.2" y="1776.0" width="96.8" height="90.5" fill="#efcd8f"/>
<rect x="1802.0" y="1776.0" width="20.0" height="83.0" fill="#efcd8f"/>
<rect x="1802.0" y="1859.0" width="20.0" height="7.5" fill="#efcd8f"/>
<rect x="1822.0" y="1047.0" width="281.2" height="251.6" fill="#a8cbb5"/>
<rect x="1822.0" y="1298.6" width="280.6" height="227.1" fill="#a8cbb5"/>
<rect x="2103.2" y="1047.0" width="208.3" height="236.0" fill="#a8cbb5"/>
<rect x="2103.2" y="1283.0" width="123.0" height="117.0" fill="#a8cbb5"/>
<rect x="2226.2" y="1283.0" width="85.3" height="117.0" fill="#a8cbb5"/>
<rect x="2102.6" y="1400.0" width="65.4" height="125.7" fill="#a8cbb5"/>
<rect x="2168.0" y="1400.0" width="62.2" height="125.7" fill="#a8cbb5"/>
<rect x="2230.2" y="1400.0" width="81.3" height="90.8" fill="#a8cbb5"/>
<rect x="2230.2" y="1490.8" width="48.1" height="34.9" fill="#a8cbb5"/>
<rect x="2278.3" y="1490.8" width="25.5" height="16.2" fill="#a8cbb5"/>
<rect x="2278.3" y="1507.0" width="25.5" height="18.7" fill="#a8cbb5"/>
<rect x="2303.8" y="1490.8" width="7.7" height="34.9" fill="#a8cbb5"/>
<rect x="2311.5" y="1047.0" width="178.7" height="204.0" fill="#eff6f6"/>
<rect x="2311.5" y="1251.0" width="99.7" height="170.0" fill="#eff6f6"/>
<rect x="2411.2" y="1251.0" width="79.0" height="170.0" fill="#eff6f6"/>
<rect x="2311.5" y="1421.0" width="94.5" height="104.7" fill="#eff6f6"/>
<rect x="2406.0" y="1421.0" width="84.2" height="84.8" fill="#eff6f6"/>
<rect x="2406.0" y="1505.8" width="62.3" height="19.9" fill="#eff6f6"/>
<rect x="2468.3" y="1505.8" width="12.7" height="14.2" fill="#eff6f6"/>
<rect x="2481.0" y="1505.8" width="9.2" height="14.2" fill="#eff6f6"/>
<rect x="2468.3" y="1520.0" width="21.9" height="5.7" fill="#eff6f6"/>
<rect x="1822.0" y="1525.7" width="238.5" height="340.8" fill="#e7b081"/>
<rect x="2060.5" y="1525.7" width="112.9" height="233.6" fill="#9eb0d3"/>
<rect x="2173.4" y="1525.7" width="96.1" height="233.6" fill="#9eb0d3"/>
<rect x="2060.5" y="1759.3" width="62.0" height="107.2" fill="#9eb0d3"/>
<rect x="2122.5" y="1759.3" width="62.8" height="66.2" fill="#9eb0d3"/>
<rect x="2122.5" y="1825.5" width="62.8" height="41.0" fill="#9eb0d3"/>
<rect x="2230.8" y="1787.3" width="38.7" height="21.0" fill="#9eb0d3"/>
<rect x="2185.3" y="1808.3" width="28.2" height="27.7" fill="#9eb0d3"/>
<rect x="2185.3" y="1836.0" width="28.2" height="30.5" fill="#9eb0d3"/>
<rect x="2213.5" y="1808.3" width="19.8" height="23.2" fill="#9eb0d3"/>
<rect x="2213.5" y="1831.5" width="19.8" height="17.0" fill="#9eb0d3"/>
<rect x="2213.5" y="1848.5" width="19.8" height="18.0" fill="#9eb0d3"/>
<rect x="2233.3" y="1808.3" width="18.7" height="15.7" fill="#9eb0d3"/>
<rect x="2252.0" y="1808.3" width="17.5" height="15.7" fill="#9eb0d3"/>
<rect x="2233.3" y="1824.0" width="12.7" height="13.0" fill="#9eb0d3"/>
<rect x="2246.0" y="1824.0" width="12.0" height="13.0" fill="#9eb0d3"/>
<rect x="2258.0" y="1824.0" width="11.5" height="13.0" fill="#9eb0d3"/>
<rect x="2233.3" y="1837.0" width="9.7" height="10.0" fill="#9eb0d3"/>
<rect x="2233.3" y="1847.0" width="9.7" height="8.0" fill="#9eb0d3"/>
<rect x="2233.3" y="1855.0" width="9.7" height="11.5" fill="#9eb0d3"/>
<rect x="2243.0" y="1837.0" width="8.0" height="10.0" fill="#9eb0d3"/>
<rect x="2243.0" y="1847.0" width="8.0" height="8.0" fill="#9eb0d3"/>
<rect x="2243.0" y="1855.0" width="8.0" height="11.5" fill="#9eb0d3"/>
<rect x="2251.0" y="1837.0" width="7.0" height="10.0" fill="#9eb0d3"/>
<rect x="2251.0" y="1847.0" width="7.0" height="8.0" fill="#9eb0d3"/>
<rect x="2251.0" y="1855.0" width="7.0" height="11.5" fill="#9eb0d3"/>
<rect x="2258.0" y="1837.0" width="6.0" height="10.0" fill="#9eb0d3"/>
<rect x="2258.0" y="1847.0" width="6.0" height="8.0" fill="#9eb0d3"/>
<rect x="2258.0" y="1855.0" width="6.0" height="11.5" fill="#9eb0d3"/>
<rect x="2264.0" y="1837.0" width="5.5" height="10.0" fill="#9eb0d3"/>
<rect x="2264.0" y="1847.0" width="5.5" height="8.0" fill="#9eb0d3"/>
<rect x="2264.0" y="1855.0" width="5.5" height="11.5" fill="#9eb0d3"/>
<rect x="2185.3" y="1759.3" width="45.5" height="49.0" fill="#9eb0d3"/>
<rect x="2230.8" y="1759.3" width="38.7" height="28.0" fill="#9eb0d3"/>
<rect x="2269.5" y="1525.7" width="200.7" height="184.8" fill="#f3eeae"/>
<rect x="2470.2" y="1525.7" width="20.0" height="184.8" fill="#f3eeae"/>
<rect x="2269.5" y="1710.5" width="101.8" height="144.9" fill="#e2bdd4"/>
<rect x="2269.5" y="1855.4" width="69.5" height="11.1" fill="#e2bdd4"/>
<rect x="2339.0" y="1855.4" width="13.0" height="11.1" fill="#e2bdd4"/>
<rect x="2352.0" y="1855.4" width="7.0" height="11.1" fill="#e2bdd4"/>
<rect x="2359.0" y="1855.4" width="6.0" height="11.1" fill="#e2bdd4"/>
<rect x="2365.0" y="1855.4" width="6.3" height="11.1" fill="#e2bdd4"/>
<rect x="2371.3" y="1710.5" width="98.1" height="114.5" fill="#cccbcb"/>
<rect x="2371.3" y="1825.0" width="98.1" height="12.0" fill="#cccbcb"/>
<rect x="2469.4" y="1710.5" width="20.8" height="49.1" fill="#cccbcb"/>
<rect x="2469.4" y="1759.6" width="20.8" height="42.9" fill="#cccbcb"/>
<rect x="2469.4" y="1802.5" width="20.8" height="19.0" fill="#cccbcb"/>
<rect x="2469.4" y="1821.5" width="20.8" height="15.5" fill="#cccbcb"/>
<rect x="2371.3" y="1837.0" width="56.4" height="29.5" fill="#d4e8b3"/>
<rect x="2427.7" y="1837.0" width="22.6" height="29.5" fill="#e6deb9"/>
<rect x="2450.3" y="1837.0" width="21.2" height="29.5" fill="#f7e3cc"/>
<rect x="2471.5" y="1837.0" width="18.7" height="17.0" fill="#bfe4ec"/>
<rect x="2471.5" y="1854.0" width="10.0" height="12.5" fill="#e2bdd4"/>
<rect x="2481.5" y="1854.0" width="8.7" height="12.5" fill="#f9e8a6"/>
<g fill="none">
<rect x="1822.0" y="1047.0" width="281.2" height="251.6" stroke="#0a0f0c" stroke-width="4.4"/>
<rect x="1822.0" y="1298.6" width="280.6" height="227.1" stroke="#0a0f0c" stroke-width="4.4"/>
<rect x="2103.2" y="1047.0" width="208.3" height="236.0" stroke="#0a0f0c" stroke-width="4.4"/>
<rect x="2103.2" y="1283.0" width="123.0" height="117.0" stroke="#0a0f0c" stroke-width="4.4"/>
<rect x="2226.2" y="1283.0" width="85.3" height="117.0" stroke="#0a0f0c" stroke-width="4.4"/>
<rect x="2102.6" y="1400.0" width="65.4" height="125.7" stroke="#0a0f0c" stroke-width="4.4"/>
<rect x="2168.0" y="1400.0" width="62.2" height="125.7" stroke="#0a0f0c" stroke-width="4.4"/>
<rect x="2230.2" y="1400.0" width="81.3" height="90.8" stroke="#0a0f0c" stroke-width="4.4"/>
<rect x="2230.2" y="1490.8" width="48.1" height="34.9" stroke="#0a0f0c" stroke-width="4.4"/>
<rect x="2278.3" y="1490.8" width="25.5" height="16.2" stroke="#0a0f0c" stroke-width="4"/>
<rect x="2278.3" y="1507.0" width="25.5" height="18.7" stroke="#0a0f0c" stroke-width="4"/>
<rect x="2303.8" y="1490.8" width="7.7" height="34.9" stroke="#0a0f0c" stroke-width="4"/>
<rect x="2311.5" y="1047.0" width="178.7" height="204.0" stroke="#333333" stroke-width="4.4"/>
<rect x="2311.5" y="1251.0" width="99.7" height="170.0" stroke="#333333" stroke-width="4.4"/>
<rect x="2411.2" y="1251.0" width="79.0" height="170.0" stroke="#333333" stroke-width="4.4"/>
<rect x="2311.5" y="1421.0" width="94.5" height="104.7" stroke="#333333" stroke-width="4.4"/>
<rect x="2406.0" y="1421.0" width="84.2" height="84.8" stroke="#333333" stroke-width="4.4"/>
<rect x="2406.0" y="1505.8" width="62.3" height="19.9" stroke="#333333" stroke-width="4.4"/>
<rect x="2060.5" y="1525.7" width="112.9" height="233.6" stroke="#14272f" stroke-width="4.4"/>
<rect x="2173.4" y="1525.7" width="96.1" height="233.6" stroke="#14272f" stroke-width="4.4"/>
<rect x="2060.5" y="1759.3" width="62.0" height="107.2" stroke="#14272f" stroke-width="4.4"/>
<rect x="2122.5" y="1759.3" width="62.8" height="66.2" stroke="#14272f" stroke-width="4.4"/>
<rect x="2122.5" y="1825.5" width="62.8" height="41.0" stroke="#14272f" stroke-width="4.4"/>
<rect x="2230.8" y="1787.3" width="38.7" height="21.0" stroke="#14272f" stroke-width="4.4"/>
<rect x="2185.3" y="1808.3" width="28.2" height="27.7" stroke="#14272f" stroke-width="4.4"/>
<rect x="2185.3" y="1836.0" width="28.2" height="30.5" stroke="#14272f" stroke-width="4.4"/>
<rect x="2213.5" y="1808.3" width="19.8" height="23.2" stroke="#14272f" stroke-width="4"/>
<rect x="2213.5" y="1831.5" width="19.8" height="17.0" stroke="#14272f" stroke-width="4"/>
<rect x="2213.5" y="1848.5" width="19.8" height="18.0" stroke="#14272f" stroke-width="4"/>
<rect x="2233.3" y="1808.3" width="18.7" height="15.7" stroke="#14272f" stroke-width="4"/>
<rect x="2252.0" y="1808.3" width="17.5" height="15.7" stroke="#14272f" stroke-width="4"/>
<rect x="2233.3" y="1824.0" width="12.7" height="13.0" stroke="#14272f" stroke-width="4"/>
<rect x="2246.0" y="1824.0" width="12.0" height="13.0" stroke="#14272f" stroke-width="4"/>
<rect x="2258.0" y="1824.0" width="11.5" height="13.0" stroke="#14272f" stroke-width="4"/>
<rect x="1263.0" y="1047.0" width="559.0" height="528.1" stroke="#000" stroke-width="4.4"/>
<rect x="1263.0" y="1575.1" width="442.2" height="291.4" stroke="#000" stroke-width="4.4"/>
<rect x="1705.2" y="1575.1" width="116.8" height="112.1" stroke="#000" stroke-width="4.4"/>
<rect x="1705.2" y="1687.2" width="116.8" height="88.8" stroke="#000" stroke-width="4.4"/>
<rect x="1705.2" y="1776.0" width="96.8" height="90.5" stroke="#000" stroke-width="4.4"/>
<rect x="1802.0" y="1776.0" width="20.0" height="83.0" stroke="#000" stroke-width="4.4"/>
<rect x="1802.0" y="1859.0" width="20.0" height="7.5" stroke="#000" stroke-width="3"/>
<rect x="2468.3" y="1505.8" width="12.7" height="14.2" stroke="#000" stroke-width="4"/>
<rect x="2481.0" y="1505.8" width="9.2" height="14.2" stroke="#000" stroke-width="3"/>
<rect x="2468.3" y="1520.0" width="21.9" height="5.7" stroke="#000" stroke-width="3"/>
<rect x="1822.0" y="1525.7" width="238.5" height="340.8" stroke="#000" stroke-width="4.4"/>
<rect x="2233.3" y="1837.0" width="9.7" height="10.0" stroke="#000" stroke-width="3.8"/>
<rect x="2233.3" y="1847.0" width="9.7" height="8.0" stroke="#000" stroke-width="3.8"/>
<rect x="2233.3" y="1855.0" width="9.7" height="11.5" stroke="#000" stroke-width="3.8"/>
<rect x="2243.0" y="1837.0" width="8.0" height="10.0" stroke="#000" stroke-width="3.8"/>
<rect x="2243.0" y="1847.0" width="8.0" height="8.0" stroke="#000" stroke-width="3.8"/>
<rect x="2243.0" y="1855.0" width="8.0" height="11.5" stroke="#000" stroke-width="3.8"/>
<rect x="2251.0" y="1837.0" width="7.0" height="10.0" stroke="#000" stroke-width="3.8"/>
<rect x="2251.0" y="1847.0" width="7.0" height="8.0" stroke="#000" stroke-width="3.8"/>
<rect x="2251.0" y="1855.0" width="7.0" height="11.5" stroke="#000" stroke-width="3.8"/>
<rect x="2258.0" y="1837.0" width="6.0" height="10.0" stroke="#000" stroke-width="3.8"/>
<rect x="2258.0" y="1847.0" width="6.0" height="8.0" stroke="#000" stroke-width="3.8"/>
<rect x="2258.0" y="1855.0" width="6.0" height="11.5" stroke="#000" stroke-width="3.8"/>
<rect x="2264.0" y="1837.0" width="5.5" height="10.0" stroke="#000" stroke-width="3.8"/>
<rect x="2264.0" y="1847.0" width="5.5" height="8.0" stroke="#000" stroke-width="3.8"/>
<rect x="2264.0" y="1855.0" width="5.5" height="11.5" stroke="#000" stroke-width="3.8"/>
<rect x="2185.3" y="1759.3" width="45.5" height="49.0" stroke="#000" stroke-width="4.6"/>
<rect x="2230.8" y="1759.3" width="38.7" height="28.0" stroke="#000" stroke-width="4.4"/>
<rect x="2269.5" y="1525.7" width="200.7" height="184.8" stroke="#000" stroke-width="4.4"/>
<rect x="2470.2" y="1525.7" width="20.0" height="184.8" stroke="#000" stroke-width="4.4"/>
<rect x="2269.5" y="1710.5" width="101.8" height="144.9" stroke="#000" stroke-width="4.4"/>
<rect x="2269.5" y="1855.4" width="69.5" height="11.1" stroke="#000" stroke-width="3.5"/>
<rect x="2339.0" y="1855.4" width="13.0" height="11.1" stroke="#000" stroke-width="3.8"/>
<rect x="2352.0" y="1855.4" width="7.0" height="11.1" stroke="#000" stroke-width="3.8"/>
<rect x="2359.0" y="1855.4" width="6.0" height="11.1" stroke="#000" stroke-width="3.8"/>
<rect x="2365.0" y="1855.4" width="6.3" height="11.1" stroke="#000" stroke-width="3.8"/>
<rect x="2371.3" y="1710.5" width="98.1" height="114.5" stroke="#000" stroke-width="4.4"/>
<rect x="2371.3" y="1825.0" width="98.1" height="12.0" stroke="#000" stroke-width="3"/>
<rect x="2469.4" y="1710.5" width="20.8" height="49.1" stroke="#000" stroke-width="4.4"/>
<rect x="2469.4" y="1759.6" width="20.8" height="42.9" stroke="#000" stroke-width="4.4"/>
<rect x="2469.4" y="1802.5" width="20.8" height="19.0" stroke="#000" stroke-width="4.4"/>
<rect x="2469.4" y="1821.5" width="20.8" height="15.5" stroke="#000" stroke-width="4.4"/>
<rect x="2371.3" y="1837.0" width="56.4" height="29.5" stroke="#000" stroke-width="4.4"/>
<rect x="2427.7" y="1837.0" width="22.6" height="29.5" stroke="#000" stroke-width="4.4"/>
<rect x="2450.3" y="1837.0" width="21.2" height="29.5" stroke="#000" stroke-width="4.4"/>
<rect x="2471.5" y="1837.0" width="18.7" height="17.0" stroke="#000" stroke-width="4"/>
<rect x="2471.5" y="1854.0" width="10.0" height="12.5" stroke="#000" stroke-width="4"/>
<rect x="2481.5" y="1854.0" width="8.7" height="12.5" stroke="#000" stroke-width="3.5"/>
<rect x="2060.5" y="1525.7" width="209.0" height="340.8" stroke="#000" stroke-width="4.8"/>
<rect x="1822.0" y="1047.0" width="489.5" height="478.7" stroke="#000" stroke-width="4.8"/>
<rect x="2311.5" y="1047.0" width="178.7" height="478.7" stroke="#000" stroke-width="4.8"/>
</g>
</g>
<rect x="1267" y="1051" width="1219.2" height="811.5" fill="none" stroke="#0a0a0a" stroke-width="2.2"/>
<g clip-path="url(#cpD)">
<text x="1468.7" y="1317.0" font-size="30.20">Teleaulax</text>
<text x="1401.3" y="1724.0" font-size="30.20">Plagioselmis</text>
<text x="1709.0" y="1635.7" font-size="17.40">Cryptomonadales_XX</text>
<text x="1720.8" y="1824.2" font-size="16.80">Proteomonas</text>
<text x="1899.9" y="1177.5" font-size="25.60">Tetraselmis</text>
<text x="1849.0" y="1415.7" font-size="25.70">Chlorodendrales_XX</text>
<text x="2121.8" y="1170.0" font-size="25.70">Pyramimonas</text>
<text x="2234.6" y="1345.5" font-size="11.20">Nephroselmis</text>
<text x="2107.3" y="1467.0" font-size="12.75">Mantoniella</text>
<text x="2177.5" y="1467.0" font-size="12.70">Mamiella</text>
<text x="2232.2" y="1450.0" font-size="12.80">Chloropicon</text>
<text x="2233.0" y="1512.5" font-size="11.20">RCC391</text>
<text x="2283.0" y="1499.8" font-size="2.60">Dolichomastix</text>
<text x="2282.9" y="1517.4" font-size="3.00">Micromonas</text>
<text x="2324.7" y="1154.5" font-size="17.10">Chlorarachnida_XX</text>
<text x="2328.6" y="1340.2" font-size="14.90">Lotharella</text>
<text x="2414.9" y="1340.0" font-size="12.80">Bigelowiella</text>
<text x="2324.7" y="1477.8" font-size="17.10">Norrisiella</text>
<text x="2409.1" y="1467.6" font-size="11.20">Chlorarachnion</text>
<text x="2414.7" y="1519.8" font-size="11.20">Protaspa</text>
<text x="2469.9" y="1513.8" font-size="2.50">Minorisa</text>
<text x="1878.9" y="1698.3" font-size="17.20">Pterocystida_XXX</text>
<text x="2079.5" y="1646.5" font-size="17.10">MAST−12D</text>
<text x="2183.0" y="1647.0" font-size="12.80">Dictyochales</text>
<text x="2183.0" y="1662.7" font-size="12.80">_X</text>
<text x="2064.3" y="1812.3" font-size="3.90">Labyrinthulomycetes_LAB14_X</text>
<text x="2124.6" y="1796.1" font-size="10.30">MAST−12_X</text>
<text x="2128.1" y="1847.9" font-size="11.10">MAST−4C</text>
<text x="2233.2" y="1800.4" font-size="7.40">MAST−8A</text>
<text x="2188.9" y="1823.8" font-size="4.60">MAST−4E</text>
<text x="2189.7" y="1850.5" font-size="3.40">MAST−10_X</text>
<text x="2214.6" y="1820.8" font-size="2.60">MOCH−4_XXX</text>
<text x="2215.6" y="1841.2" font-size="3.40">MAST−4B</text>
<text x="2215.7" y="1856.6" font-size="3.00">MAST−12A</text>
<text x="2236.8" y="1817.0" font-size="2.50">MAST−1C</text>
<text x="2254.9" y="1817.0" font-size="2.50">MAST−4D</text>
<text x="2233.9" y="1831.4" font-size="2.50">MAST−3A</text>
<text x="2189.8" y="1785.5" font-size="4.70">Paraphysomonas</text>
<text x="2233.3" y="1775.3" font-size="5.50">Pelagomonas</text>
<text x="2287.9" y="1621.6" font-size="16.90">Telonemia−Group−1_X</text>
<text x="2465.3" y="1619.0" font-size="2.50">Telonemia−Group−2_X</text>
<text x="2271.3" y="1785.7" font-size="12.80">Stephanoecidae</text>
<text x="2271.3" y="1801.4" font-size="12.80">_Group_H_X</text>
<text x="2374.8" y="1746.8" font-size="17.10">Chryso-</text>
<text x="2374.8" y="1767.8" font-size="17.10">chromulina</text>
<text x="2375.5" y="1833.5" font-size="6.40">Haptophyta_Clade_HAP2_XXX</text>
<text x="2471.1" y="1781.9" font-size="2.50">Phaeocystis</text>
<text x="2470.9" y="1812.9" font-size="2.50">Prymnesium</text>
<text x="2472.5" y="1830.1" font-size="2.50">Haptolina</text>
<text x="2426.6" y="1850.6" font-size="2.50">Kathablepharidida_XX</text>
<text x="2469.5" y="1846.4" font-size="2.50">Picozoa_XXXXX</text>
</g>
<text x="35" y="1919.7" font-size="42.3">Division</text>
<rect x="32.8" y="1936" width="67" height="66.7" fill="#879fc9"/>
<text x="115.3" y="1982.0" font-size="34.4">Stramenopiles</text>
<rect x="32.8" y="2006" width="67" height="66.7" fill="#90bfa3"/>
<text x="115.3" y="2052.0" font-size="34.4">Chlorophyta</text>
<rect x="32.8" y="2076" width="67" height="66.7" fill="#afdde7"/>
<text x="115.3" y="2122.0" font-size="34.4">Picozoa</text>
<rect x="32.8" y="2146" width="67" height="66.7" fill="#a9a3ce"/>
<text x="115.3" y="2192.0" font-size="34.4">Apusomonada</text>
<rect x="32.8" y="2216" width="67" height="66.7" fill="#b49384"/>
<text x="115.3" y="2262.0" font-size="34.4">Rhodophyta</text>
<rect x="368.6" y="1936" width="67" height="66.7" fill="#b9c0de"/>
<text x="451" y="1982.0" font-size="34.4">Ancyromonadida</text>
<rect x="368.6" y="2006" width="67" height="66.7" fill="#b79fcc"/>
<text x="451" y="2052.0" font-size="34.4">Chlorophyta:plas</text>
<rect x="368.6" y="2076" width="67" height="66.7" fill="#c0bebf"/>
<text x="451" y="2122.0" font-size="34.4">Haptophyta</text>
<rect x="368.6" y="2146" width="67" height="66.7" fill="#c7e2a0"/>
<text x="451" y="2192.0" font-size="34.4">Rhizaria:nucl</text>
<rect x="368.6" y="2216" width="67" height="66.7" fill="#cfcd7c"/>
<text x="451" y="2262.0" font-size="34.4">Alveolata</text>
<rect x="752" y="1936" width="67" height="66.7" fill="#d1d1d1"/>
<text x="834.6" y="1982.0" font-size="34.4">Streptophyta</text>
<rect x="752" y="2006" width="67" height="66.7" fill="#dac2bd"/>
<text x="834.6" y="2052.0" font-size="34.4">Discosea</text>
<rect x="752" y="2076" width="67" height="66.7" fill="#dbaecb"/>
<text x="834.6" y="2122.0" font-size="34.4">Opisthokonta</text>
<rect x="752" y="2146" width="67" height="66.7" fill="#dfd6ac"/>
<text x="834.6" y="2192.0" font-size="34.4">Kathablepharidacea</text>
<rect x="752" y="2216" width="67" height="66.7" fill="#e09f69"/>
<text x="834.6" y="2262.0" font-size="34.4">Centroplasthelida</text>
<rect x="1165.4" y="1936" width="67" height="66.7" fill="#df9f68"/>
<text x="1247.9" y="1982.0" font-size="34.4">Discoba</text>
<rect x="1165.4" y="2006" width="67" height="66.7" fill="#dc856b"/>
<text x="1247.9" y="2052.0" font-size="34.4">Metamonada</text>
<rect x="1165.4" y="2076" width="67" height="66.7" fill="#ecf4f4"/>
<text x="1247.9" y="2122.0" font-size="34.4">Rhizaria</text>
<rect x="1165.4" y="2146" width="67" height="66.7" fill="#eddbc2"/>
<text x="1247.9" y="2192.0" font-size="34.4">Cryptophyta:nucl</text>
<rect x="1165.4" y="2216" width="67" height="66.7" fill="#ebc47d"/>
<text x="1247.9" y="2262.0" font-size="34.4">Cryptophyta</text>
<rect x="1536" y="1936" width="67" height="66.7" fill="#e8b9d8"/>
<text x="1618.5" y="1982.0" font-size="34.4">Prasinodermophyta</text>
<rect x="1536" y="2006" width="67" height="66.7" fill="#f0e89a"/>
<text x="1618.5" y="2052.0" font-size="34.4">Telonemia</text>
<rect x="1536" y="2076" width="67" height="66.7" fill="#fbd2ae"/>
<text x="1618.5" y="2122.0" font-size="34.4">Tubulinea</text>
<rect x="1536" y="2146" width="67" height="66.7" fill="#f8e290"/>
<text x="1618.5" y="2192.0" font-size="34.4">Nibbleridia</text>
</svg>
</body></html>
